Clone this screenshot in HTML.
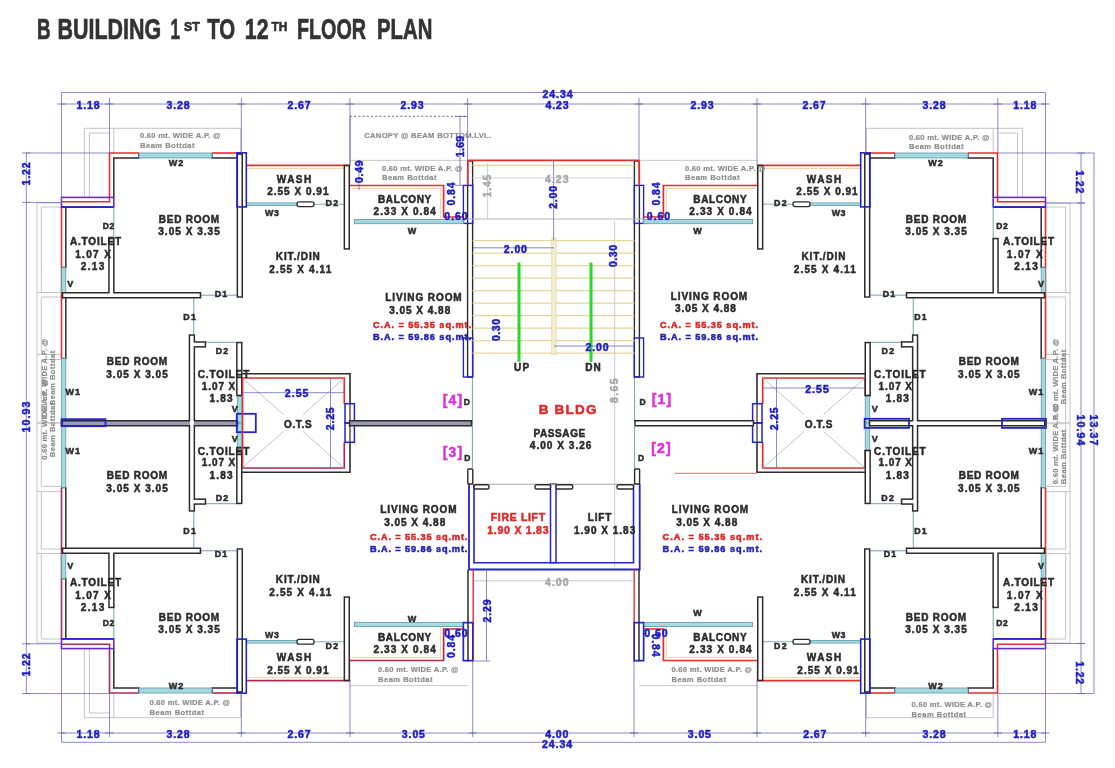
<!DOCTYPE html>
<html><head><meta charset="utf-8"><style>
html,body{margin:0;padding:0;background:#fff;overflow:hidden;}
svg{display:block;will-change:transform;}
</style></head><body>
<svg width="1115" height="768" viewBox="0 0 1115 768" shape-rendering="geometricPrecision">
<rect width="1115" height="768" fill="#fff"/>
<polyline points="84.4,128.3 240.7,128.3 240.7,153" fill="none" stroke="#c4c4c4" stroke-width="1" stroke-linejoin="miter" />
<polyline points="89.4,197.4 89.4,133 109.5,133" fill="none" stroke="#c4c4c4" stroke-width="1" stroke-linejoin="miter" />
<line x1="84.4" y1="128.3" x2="84.4" y2="197.4" stroke="#c4c4c4" stroke-width="1" />
<line x1="113.8" y1="128.3" x2="113.8" y2="153" stroke="#c4c4c4" stroke-width="1" />
<line x1="37" y1="203" x2="37" y2="423" stroke="#c4c4c4" stroke-width="1" />
<line x1="41.3" y1="207" x2="41.3" y2="292.5" stroke="#c4c4c4" stroke-width="1" />
<line x1="41.3" y1="297" x2="41.3" y2="354.4" stroke="#c4c4c4" stroke-width="1" />
<line x1="41.3" y1="359.6" x2="41.3" y2="423" stroke="#c4c4c4" stroke-width="1" />
<line x1="37" y1="203" x2="61.5" y2="203" stroke="#c4c4c4" stroke-width="1" />
<line x1="41.3" y1="207" x2="61.5" y2="207" stroke="#c4c4c4" stroke-width="1" />
<line x1="37" y1="292.5" x2="61.5" y2="292.5" stroke="#c4c4c4" stroke-width="1" />
<line x1="41.3" y1="297" x2="61.5" y2="297" stroke="#c4c4c4" stroke-width="1" />
<line x1="37" y1="354.4" x2="61.5" y2="354.4" stroke="#c4c4c4" stroke-width="1" />
<line x1="41.3" y1="359.6" x2="61.5" y2="359.6" stroke="#c4c4c4" stroke-width="1" />
<line x1="37" y1="423" x2="61.5" y2="423" stroke="#c4c4c4" stroke-width="1" />
<polyline points="242,153 212,153" fill="none" stroke="#e2302f" stroke-width="1.6" stroke-linejoin="miter" />
<polyline points="139,153 109.5,153 109.5,201.7 61.5,201.7" fill="none" stroke="#e2302f" stroke-width="1.6" stroke-linejoin="miter" />
<line x1="61.5" y1="207" x2="61.5" y2="358.5" stroke="#e2302f" stroke-width="1.6" />
<polyline points="139,153 139,158 113.8,158 113.8,197.4" fill="none" stroke="#2b2b2b" stroke-width="1.5" stroke-linejoin="miter" />
<polyline points="212,153 212,158 237.3,158" fill="none" stroke="#2b2b2b" stroke-width="1.5" stroke-linejoin="miter" />
<polyline points="65.8,207 65.8,267.6 61.5,267.6" fill="none" stroke="#2b2b2b" stroke-width="1.5" stroke-linejoin="miter" />
<polyline points="65.8,297.7 65.8,358.5 61.5,358.5" fill="none" stroke="#2b2b2b" stroke-width="1.5" stroke-linejoin="miter" />
<rect x="139" y="153" width="73" height="5" rx="0" fill="#a6d8e2" stroke="#5f9aa4" stroke-width="0.8" />
<rect x="61.5" y="267.6" width="4.3" height="25.1" rx="0" fill="#a6d8e2" stroke="#5f9aa4" stroke-width="0.8" />
<rect x="61.5" y="358.5" width="4.3" height="64.5" rx="0" fill="#a6d8e2" stroke="#5f9aa4" stroke-width="0.8" />
<rect x="61.5" y="197.4" width="52.3" height="9.7" rx="0" fill="none" stroke="#6a2ad0" stroke-width="1.6" />
<line x1="61.5" y1="207.1" x2="113.8" y2="207.1" stroke="#2424c8" stroke-width="1.6" />
<rect x="467.6" y="161" width="5" height="216" rx="0" fill="#fff" stroke="#2b2b2b" stroke-width="1.4" />
<line x1="113.8" y1="207" x2="113.8" y2="241" stroke="#5f9aa4" stroke-width="0.9" />
<line x1="201" y1="295.2" x2="237.3" y2="295.2" stroke="#5f9aa4" stroke-width="0.9" />
<line x1="193.75" y1="297.7" x2="193.75" y2="334.4" stroke="#5f9aa4" stroke-width="0.9" />
<line x1="206.25" y1="342.3" x2="236.8" y2="342.3" stroke="#5f9aa4" stroke-width="0.9" />
<rect x="237.3" y="396.2" width="4.5" height="26.8" rx="0" fill="#a6d8e2" stroke="#5f9aa4" stroke-width="0.8" />
<line x1="472.4" y1="377" x2="472.4" y2="423" stroke="#5f9aa4" stroke-width="0.9" />
<rect x="463.4" y="185.4" width="9.3" height="38" rx="0" fill="none" stroke="#2424c8" stroke-width="1.4" />
<rect x="463.4" y="338" width="9.3" height="39" rx="0" fill="none" stroke="#2424c8" stroke-width="1.4" />
<polyline points="246,168.5 346,168.5" fill="none" stroke="#ecd9a8" stroke-width="1" stroke-linejoin="miter" />
<polyline points="246,165.4 349.3,165.4 349.3,185.5 443.6,185.5 443.6,217 463.4,217" fill="none" stroke="#e2302f" stroke-width="1.7" stroke-linejoin="miter" />
<polyline points="352,188.5 440.6,188.5 440.6,219" fill="none" stroke="#ecd9a8" stroke-width="1" stroke-linejoin="miter" />
<line x1="246" y1="204.2" x2="297" y2="204.2" stroke="#5f9aa4" stroke-width="3.4" />
<line x1="246" y1="204.2" x2="297" y2="204.2" stroke="#a6d8e2" stroke-width="2" />
<line x1="314" y1="204.2" x2="344" y2="204.2" stroke="#5f9aa4" stroke-width="0.8" />
<rect x="297" y="201.8" width="17" height="4.8" rx="2" fill="#fff" stroke="#2b2b2b" stroke-width="1.3" />
<rect x="354.4" y="219.4" width="109" height="4.3" rx="0" fill="#a6d8e2" stroke="#5f9aa4" stroke-width="0.8" />
<line x1="349.3" y1="160.4" x2="467.6" y2="160.4" stroke="#c4c4c4" stroke-width="0.9" />
<polyline points="242,373.8 350,373.8 350,403.7" fill="none" stroke="#2b2b2b" stroke-width="1.6" stroke-linejoin="miter" />
<polyline points="241.8,396 241.8,378 344.3,378 344.3,403.7" fill="none" stroke="#e2302f" stroke-width="1.7" stroke-linejoin="miter" />
<line x1="242" y1="378" x2="283.5" y2="414.5" stroke="#b4b4b4" stroke-width="0.8" />
<line x1="344.3" y1="378" x2="303" y2="414.5" stroke="#b4b4b4" stroke-width="0.8" />
<rect x="345" y="403.7" width="9.4" height="19.3" rx="0" fill="none" stroke="#2424c8" stroke-width="1.5" />
<line x1="350" y1="403.7" x2="350" y2="423" stroke="#2b2b2b" stroke-width="1.2" />
<line x1="330.5" y1="378" x2="330.5" y2="423" stroke="#6464b4" stroke-width="0.75" />
<line x1="467.8" y1="160.4" x2="553.5" y2="160.4" stroke="#e2302f" stroke-width="1.8" />
<line x1="467.8" y1="160.4" x2="467.8" y2="185.4" stroke="#e2302f" stroke-width="1.6" />
<line x1="472.6" y1="165.4" x2="553.5" y2="165.4" stroke="#e6d69a" stroke-width="1.2" />
<line x1="472.6" y1="177.9" x2="553.5" y2="177.9" stroke="#d0d0d0" stroke-width="1" />
<line x1="472.6" y1="219" x2="553.5" y2="219" stroke="#b8b8b8" stroke-width="1.1" />
<line x1="463.4" y1="219" x2="472.6" y2="219" stroke="#b8b8b8" stroke-width="1.1" />
<g transform="matrix(-1,0,0,1,1107.0,0)">
<polyline points="84.4,128.3 240.7,128.3 240.7,153" fill="none" stroke="#c4c4c4" stroke-width="1" stroke-linejoin="miter" />
<polyline points="89.4,197.4 89.4,133 109.5,133" fill="none" stroke="#c4c4c4" stroke-width="1" stroke-linejoin="miter" />
<line x1="84.4" y1="128.3" x2="84.4" y2="197.4" stroke="#c4c4c4" stroke-width="1" />
<line x1="113.8" y1="128.3" x2="113.8" y2="153" stroke="#c4c4c4" stroke-width="1" />
<line x1="37" y1="203" x2="37" y2="423" stroke="#c4c4c4" stroke-width="1" />
<line x1="41.3" y1="207" x2="41.3" y2="292.5" stroke="#c4c4c4" stroke-width="1" />
<line x1="41.3" y1="297" x2="41.3" y2="354.4" stroke="#c4c4c4" stroke-width="1" />
<line x1="41.3" y1="359.6" x2="41.3" y2="423" stroke="#c4c4c4" stroke-width="1" />
<line x1="37" y1="203" x2="61.5" y2="203" stroke="#c4c4c4" stroke-width="1" />
<line x1="41.3" y1="207" x2="61.5" y2="207" stroke="#c4c4c4" stroke-width="1" />
<line x1="37" y1="292.5" x2="61.5" y2="292.5" stroke="#c4c4c4" stroke-width="1" />
<line x1="41.3" y1="297" x2="61.5" y2="297" stroke="#c4c4c4" stroke-width="1" />
<line x1="37" y1="354.4" x2="61.5" y2="354.4" stroke="#c4c4c4" stroke-width="1" />
<line x1="41.3" y1="359.6" x2="61.5" y2="359.6" stroke="#c4c4c4" stroke-width="1" />
<line x1="37" y1="423" x2="61.5" y2="423" stroke="#c4c4c4" stroke-width="1" />
<polyline points="242,153 212,153" fill="none" stroke="#e2302f" stroke-width="1.6" stroke-linejoin="miter" />
<polyline points="139,153 109.5,153 109.5,201.7 61.5,201.7" fill="none" stroke="#e2302f" stroke-width="1.6" stroke-linejoin="miter" />
<line x1="61.5" y1="207" x2="61.5" y2="358.5" stroke="#e2302f" stroke-width="1.6" />
<polyline points="139,153 139,158 113.8,158 113.8,197.4" fill="none" stroke="#2b2b2b" stroke-width="1.5" stroke-linejoin="miter" />
<polyline points="212,153 212,158 237.3,158" fill="none" stroke="#2b2b2b" stroke-width="1.5" stroke-linejoin="miter" />
<polyline points="65.8,207 65.8,267.6 61.5,267.6" fill="none" stroke="#2b2b2b" stroke-width="1.5" stroke-linejoin="miter" />
<polyline points="65.8,297.7 65.8,358.5 61.5,358.5" fill="none" stroke="#2b2b2b" stroke-width="1.5" stroke-linejoin="miter" />
<rect x="139" y="153" width="73" height="5" rx="0" fill="#a6d8e2" stroke="#5f9aa4" stroke-width="0.8" />
<rect x="61.5" y="267.6" width="4.3" height="25.1" rx="0" fill="#a6d8e2" stroke="#5f9aa4" stroke-width="0.8" />
<rect x="61.5" y="358.5" width="4.3" height="64.5" rx="0" fill="#a6d8e2" stroke="#5f9aa4" stroke-width="0.8" />
<rect x="61.5" y="197.4" width="52.3" height="9.7" rx="0" fill="none" stroke="#6a2ad0" stroke-width="1.6" />
<line x1="61.5" y1="207.1" x2="113.8" y2="207.1" stroke="#2424c8" stroke-width="1.6" />
<rect x="467.6" y="161" width="5" height="216" rx="0" fill="#fff" stroke="#2b2b2b" stroke-width="1.4" />
<line x1="113.8" y1="207" x2="113.8" y2="241" stroke="#5f9aa4" stroke-width="0.9" />
<line x1="201" y1="295.2" x2="237.3" y2="295.2" stroke="#5f9aa4" stroke-width="0.9" />
<line x1="193.75" y1="297.7" x2="193.75" y2="334.4" stroke="#5f9aa4" stroke-width="0.9" />
<line x1="206.25" y1="342.3" x2="236.8" y2="342.3" stroke="#5f9aa4" stroke-width="0.9" />
<rect x="237.3" y="396.2" width="4.5" height="26.8" rx="0" fill="#a6d8e2" stroke="#5f9aa4" stroke-width="0.8" />
<line x1="472.4" y1="377" x2="472.4" y2="423" stroke="#5f9aa4" stroke-width="0.9" />
<rect x="463.4" y="185.4" width="9.3" height="38" rx="0" fill="none" stroke="#2424c8" stroke-width="1.4" />
<rect x="463.4" y="338" width="9.3" height="39" rx="0" fill="none" stroke="#2424c8" stroke-width="1.4" />
<polyline points="246,168.5 346,168.5" fill="none" stroke="#ecd9a8" stroke-width="1" stroke-linejoin="miter" />
<polyline points="246,165.4 349.3,165.4 349.3,185.5 443.6,185.5 443.6,217 463.4,217" fill="none" stroke="#e2302f" stroke-width="1.7" stroke-linejoin="miter" />
<polyline points="352,188.5 440.6,188.5 440.6,219" fill="none" stroke="#ecd9a8" stroke-width="1" stroke-linejoin="miter" />
<line x1="246" y1="204.2" x2="297" y2="204.2" stroke="#5f9aa4" stroke-width="3.4" />
<line x1="246" y1="204.2" x2="297" y2="204.2" stroke="#a6d8e2" stroke-width="2" />
<line x1="314" y1="204.2" x2="344" y2="204.2" stroke="#5f9aa4" stroke-width="0.8" />
<rect x="297" y="201.8" width="17" height="4.8" rx="2" fill="#fff" stroke="#2b2b2b" stroke-width="1.3" />
<rect x="354.4" y="219.4" width="109" height="4.3" rx="0" fill="#a6d8e2" stroke="#5f9aa4" stroke-width="0.8" />
<line x1="349.3" y1="160.4" x2="467.6" y2="160.4" stroke="#c4c4c4" stroke-width="0.9" />
<polyline points="242,373.8 350,373.8 350,403.7" fill="none" stroke="#2b2b2b" stroke-width="1.6" stroke-linejoin="miter" />
<polyline points="241.8,396 241.8,378 344.3,378 344.3,403.7" fill="none" stroke="#e2302f" stroke-width="1.7" stroke-linejoin="miter" />
<line x1="242" y1="378" x2="283.5" y2="414.5" stroke="#b4b4b4" stroke-width="0.8" />
<line x1="344.3" y1="378" x2="303" y2="414.5" stroke="#b4b4b4" stroke-width="0.8" />
<rect x="345" y="403.7" width="9.4" height="19.3" rx="0" fill="none" stroke="#2424c8" stroke-width="1.5" />
<line x1="350" y1="403.7" x2="350" y2="423" stroke="#2b2b2b" stroke-width="1.2" />
<line x1="330.5" y1="378" x2="330.5" y2="423" stroke="#6464b4" stroke-width="0.75" />
<line x1="467.8" y1="160.4" x2="553.5" y2="160.4" stroke="#e2302f" stroke-width="1.8" />
<line x1="467.8" y1="160.4" x2="467.8" y2="185.4" stroke="#e2302f" stroke-width="1.6" />
<line x1="472.6" y1="165.4" x2="553.5" y2="165.4" stroke="#e6d69a" stroke-width="1.2" />
<line x1="472.6" y1="177.9" x2="553.5" y2="177.9" stroke="#d0d0d0" stroke-width="1" />
<line x1="472.6" y1="219" x2="553.5" y2="219" stroke="#b8b8b8" stroke-width="1.1" />
<line x1="463.4" y1="219" x2="472.6" y2="219" stroke="#b8b8b8" stroke-width="1.1" />
</g>
<g transform="matrix(1,0,0,-1,0,846.0)">
<polyline points="84.4,128.3 240.7,128.3 240.7,153" fill="none" stroke="#c4c4c4" stroke-width="1" stroke-linejoin="miter" />
<polyline points="89.4,197.4 89.4,133 109.5,133" fill="none" stroke="#c4c4c4" stroke-width="1" stroke-linejoin="miter" />
<line x1="84.4" y1="128.3" x2="84.4" y2="197.4" stroke="#c4c4c4" stroke-width="1" />
<line x1="113.8" y1="128.3" x2="113.8" y2="153" stroke="#c4c4c4" stroke-width="1" />
<line x1="37" y1="203" x2="37" y2="423" stroke="#c4c4c4" stroke-width="1" />
<line x1="41.3" y1="207" x2="41.3" y2="292.5" stroke="#c4c4c4" stroke-width="1" />
<line x1="41.3" y1="297" x2="41.3" y2="354.4" stroke="#c4c4c4" stroke-width="1" />
<line x1="41.3" y1="359.6" x2="41.3" y2="423" stroke="#c4c4c4" stroke-width="1" />
<line x1="37" y1="203" x2="61.5" y2="203" stroke="#c4c4c4" stroke-width="1" />
<line x1="41.3" y1="207" x2="61.5" y2="207" stroke="#c4c4c4" stroke-width="1" />
<line x1="37" y1="292.5" x2="61.5" y2="292.5" stroke="#c4c4c4" stroke-width="1" />
<line x1="41.3" y1="297" x2="61.5" y2="297" stroke="#c4c4c4" stroke-width="1" />
<line x1="37" y1="354.4" x2="61.5" y2="354.4" stroke="#c4c4c4" stroke-width="1" />
<line x1="41.3" y1="359.6" x2="61.5" y2="359.6" stroke="#c4c4c4" stroke-width="1" />
<line x1="37" y1="423" x2="61.5" y2="423" stroke="#c4c4c4" stroke-width="1" />
<polyline points="242,153 212,153" fill="none" stroke="#b0285a" stroke-width="1.6" stroke-linejoin="miter" />
<polyline points="139,153 109.5,153 109.5,201.7 61.5,201.7" fill="none" stroke="#b0285a" stroke-width="1.6" stroke-linejoin="miter" />
<line x1="61.5" y1="207" x2="61.5" y2="358.5" stroke="#b0285a" stroke-width="1.6" />
<polyline points="139,153 139,158 113.8,158 113.8,197.4" fill="none" stroke="#2b2b2b" stroke-width="1.5" stroke-linejoin="miter" />
<polyline points="212,153 212,158 237.3,158" fill="none" stroke="#2b2b2b" stroke-width="1.5" stroke-linejoin="miter" />
<polyline points="65.8,207 65.8,267.6 61.5,267.6" fill="none" stroke="#2b2b2b" stroke-width="1.5" stroke-linejoin="miter" />
<polyline points="65.8,297.7 65.8,358.5 61.5,358.5" fill="none" stroke="#2b2b2b" stroke-width="1.5" stroke-linejoin="miter" />
<rect x="139" y="153" width="73" height="5" rx="0" fill="#a6d8e2" stroke="#5f9aa4" stroke-width="0.8" />
<rect x="61.5" y="267.6" width="4.3" height="25.1" rx="0" fill="#a6d8e2" stroke="#5f9aa4" stroke-width="0.8" />
<rect x="61.5" y="358.5" width="4.3" height="64.5" rx="0" fill="#a6d8e2" stroke="#5f9aa4" stroke-width="0.8" />
<rect x="61.5" y="197.4" width="52.3" height="9.7" rx="0" fill="none" stroke="#6a2ad0" stroke-width="1.6" />
<line x1="61.5" y1="207.1" x2="113.8" y2="207.1" stroke="#2424c8" stroke-width="1.6" />
<line x1="113.8" y1="207" x2="113.8" y2="241" stroke="#5f9aa4" stroke-width="0.9" />
<line x1="201" y1="295.2" x2="237.3" y2="295.2" stroke="#5f9aa4" stroke-width="0.9" />
<line x1="193.75" y1="297.7" x2="193.75" y2="334.4" stroke="#5f9aa4" stroke-width="0.9" />
<line x1="206.25" y1="342.3" x2="236.8" y2="342.3" stroke="#5f9aa4" stroke-width="0.9" />
<rect x="237.3" y="396.2" width="4.5" height="26.8" rx="0" fill="#a6d8e2" stroke="#5f9aa4" stroke-width="0.8" />
<rect x="463.4" y="185.4" width="9.3" height="38" rx="0" fill="none" stroke="#2424c8" stroke-width="1.4" />
<polyline points="246,168.5 346,168.5" fill="none" stroke="#ecd9a8" stroke-width="1" stroke-linejoin="miter" />
<polyline points="246,165.4 349.3,165.4 349.3,185.5 443.6,185.5 443.6,217 463.4,217" fill="none" stroke="#b0285a" stroke-width="1.7" stroke-linejoin="miter" />
<polyline points="352,188.5 440.6,188.5 440.6,219" fill="none" stroke="#ecd9a8" stroke-width="1" stroke-linejoin="miter" />
<line x1="246" y1="204.2" x2="297" y2="204.2" stroke="#5f9aa4" stroke-width="3.4" />
<line x1="246" y1="204.2" x2="297" y2="204.2" stroke="#a6d8e2" stroke-width="2" />
<line x1="314" y1="204.2" x2="344" y2="204.2" stroke="#5f9aa4" stroke-width="0.8" />
<rect x="297" y="201.8" width="17" height="4.8" rx="2" fill="#fff" stroke="#2b2b2b" stroke-width="1.3" />
<rect x="354.4" y="219.4" width="109" height="4.3" rx="0" fill="#a6d8e2" stroke="#5f9aa4" stroke-width="0.8" />
<line x1="349.3" y1="160.4" x2="467.6" y2="160.4" stroke="#c4c4c4" stroke-width="0.9" />
<polyline points="242,373.8 350,373.8 350,403.7" fill="none" stroke="#2b2b2b" stroke-width="1.6" stroke-linejoin="miter" />
<polyline points="241.8,396 241.8,378 344.3,378 344.3,403.7" fill="none" stroke="#b0285a" stroke-width="1.7" stroke-linejoin="miter" />
<line x1="242" y1="378" x2="283.5" y2="414.5" stroke="#b4b4b4" stroke-width="0.8" />
<line x1="344.3" y1="378" x2="303" y2="414.5" stroke="#b4b4b4" stroke-width="0.8" />
<rect x="345" y="403.7" width="9.4" height="19.3" rx="0" fill="none" stroke="#2424c8" stroke-width="1.5" />
<line x1="350" y1="403.7" x2="350" y2="423" stroke="#2b2b2b" stroke-width="1.2" />
<line x1="330.5" y1="378" x2="330.5" y2="423" stroke="#6464b4" stroke-width="0.75" />
</g>
<g transform="matrix(-1,0,0,-1,1107.0,846.0)">
<polyline points="113.8,128.3 240.7,128.3 240.7,153" fill="none" stroke="#c4c4c4" stroke-width="1" stroke-linejoin="miter" />
<line x1="113.8" y1="128.3" x2="113.8" y2="153" stroke="#c4c4c4" stroke-width="1" />
<line x1="37" y1="203" x2="37" y2="423" stroke="#c4c4c4" stroke-width="1" />
<line x1="41.3" y1="207" x2="41.3" y2="292.5" stroke="#c4c4c4" stroke-width="1" />
<line x1="41.3" y1="297" x2="41.3" y2="354.4" stroke="#c4c4c4" stroke-width="1" />
<line x1="41.3" y1="359.6" x2="41.3" y2="423" stroke="#c4c4c4" stroke-width="1" />
<line x1="37" y1="203" x2="61.5" y2="203" stroke="#c4c4c4" stroke-width="1" />
<line x1="41.3" y1="207" x2="61.5" y2="207" stroke="#c4c4c4" stroke-width="1" />
<line x1="37" y1="292.5" x2="61.5" y2="292.5" stroke="#c4c4c4" stroke-width="1" />
<line x1="41.3" y1="297" x2="61.5" y2="297" stroke="#c4c4c4" stroke-width="1" />
<line x1="37" y1="354.4" x2="61.5" y2="354.4" stroke="#c4c4c4" stroke-width="1" />
<line x1="41.3" y1="359.6" x2="61.5" y2="359.6" stroke="#c4c4c4" stroke-width="1" />
<line x1="37" y1="423" x2="61.5" y2="423" stroke="#c4c4c4" stroke-width="1" />
<polyline points="242,153 212,153" fill="none" stroke="#e2302f" stroke-width="1.6" stroke-linejoin="miter" />
<polyline points="139,153 109.5,153 109.5,201.7 61.5,201.7" fill="none" stroke="#e2302f" stroke-width="1.6" stroke-linejoin="miter" />
<line x1="61.5" y1="207" x2="61.5" y2="358.5" stroke="#e2302f" stroke-width="1.6" />
<polyline points="139,153 139,158 113.8,158 113.8,197.4" fill="none" stroke="#2b2b2b" stroke-width="1.5" stroke-linejoin="miter" />
<polyline points="212,153 212,158 237.3,158" fill="none" stroke="#2b2b2b" stroke-width="1.5" stroke-linejoin="miter" />
<polyline points="65.8,207 65.8,267.6 61.5,267.6" fill="none" stroke="#2b2b2b" stroke-width="1.5" stroke-linejoin="miter" />
<polyline points="65.8,297.7 65.8,358.5 61.5,358.5" fill="none" stroke="#2b2b2b" stroke-width="1.5" stroke-linejoin="miter" />
<rect x="139" y="153" width="73" height="5" rx="0" fill="#a6d8e2" stroke="#5f9aa4" stroke-width="0.8" />
<rect x="61.5" y="267.6" width="4.3" height="25.1" rx="0" fill="#a6d8e2" stroke="#5f9aa4" stroke-width="0.8" />
<rect x="61.5" y="358.5" width="4.3" height="64.5" rx="0" fill="#a6d8e2" stroke="#5f9aa4" stroke-width="0.8" />
<rect x="61.5" y="197.4" width="52.3" height="9.7" rx="0" fill="none" stroke="#6a2ad0" stroke-width="1.6" />
<line x1="61.5" y1="207.1" x2="113.8" y2="207.1" stroke="#2424c8" stroke-width="1.6" />
<line x1="113.8" y1="207" x2="113.8" y2="241" stroke="#5f9aa4" stroke-width="0.9" />
<line x1="201" y1="295.2" x2="237.3" y2="295.2" stroke="#5f9aa4" stroke-width="0.9" />
<line x1="193.75" y1="297.7" x2="193.75" y2="334.4" stroke="#5f9aa4" stroke-width="0.9" />
<line x1="206.25" y1="342.3" x2="236.8" y2="342.3" stroke="#5f9aa4" stroke-width="0.9" />
<rect x="237.3" y="396.2" width="4.5" height="26.8" rx="0" fill="#a6d8e2" stroke="#5f9aa4" stroke-width="0.8" />
<rect x="463.4" y="185.4" width="9.3" height="38" rx="0" fill="none" stroke="#2424c8" stroke-width="1.4" />
<polyline points="246,168.5 346,168.5" fill="none" stroke="#ecd9a8" stroke-width="1" stroke-linejoin="miter" />
<polyline points="246,165.4 349.3,165.4 349.3,185.5 443.6,185.5 443.6,217 463.4,217" fill="none" stroke="#e2302f" stroke-width="1.7" stroke-linejoin="miter" />
<polyline points="352,188.5 440.6,188.5 440.6,219" fill="none" stroke="#ecd9a8" stroke-width="1" stroke-linejoin="miter" />
<line x1="246" y1="204.2" x2="297" y2="204.2" stroke="#5f9aa4" stroke-width="3.4" />
<line x1="246" y1="204.2" x2="297" y2="204.2" stroke="#a6d8e2" stroke-width="2" />
<line x1="314" y1="204.2" x2="344" y2="204.2" stroke="#5f9aa4" stroke-width="0.8" />
<rect x="297" y="201.8" width="17" height="4.8" rx="2" fill="#fff" stroke="#2b2b2b" stroke-width="1.3" />
<rect x="354.4" y="219.4" width="109" height="4.3" rx="0" fill="#a6d8e2" stroke="#5f9aa4" stroke-width="0.8" />
<line x1="349.3" y1="160.4" x2="467.6" y2="160.4" stroke="#c4c4c4" stroke-width="0.9" />
<polyline points="242,373.8 350,373.8 350,403.7" fill="none" stroke="#2b2b2b" stroke-width="1.6" stroke-linejoin="miter" />
<polyline points="241.8,396 241.8,378 344.3,378 344.3,403.7" fill="none" stroke="#e2302f" stroke-width="1.7" stroke-linejoin="miter" />
<line x1="242" y1="378" x2="283.5" y2="414.5" stroke="#b4b4b4" stroke-width="0.8" />
<line x1="344.3" y1="378" x2="303" y2="414.5" stroke="#b4b4b4" stroke-width="0.8" />
<rect x="345" y="403.7" width="9.4" height="19.3" rx="0" fill="none" stroke="#2424c8" stroke-width="1.5" />
<line x1="350" y1="403.7" x2="350" y2="423" stroke="#2b2b2b" stroke-width="1.2" />
<line x1="330.5" y1="378" x2="330.5" y2="423" stroke="#6464b4" stroke-width="0.75" />
</g>
<polyline points="64.7,423.3 235,423.3" fill="none" stroke="#2b2b2b" stroke-width="6.4" stroke-linecap="square" stroke-linejoin="miter"/>
<polyline points="352,423.3 469,423.3" fill="none" stroke="#2b2b2b" stroke-width="6.4" stroke-linecap="square" stroke-linejoin="miter"/>
<polyline points="637.4,423.3 751,423.3" fill="none" stroke="#2b2b2b" stroke-width="6.4" stroke-linecap="square" stroke-linejoin="miter"/>
<polyline points="872,423.3 1042.3,423.3" fill="none" stroke="#2b2b2b" stroke-width="6.4" stroke-linecap="square" stroke-linejoin="miter"/>
<polyline points="111.4,241 111.4,294" fill="none" stroke="#2b2b2b" stroke-width="6.4" stroke-linecap="square" stroke-linejoin="miter"/>
<polyline points="65,295.2 198,295.2" fill="none" stroke="#2b2b2b" stroke-width="6.4" stroke-linecap="square" stroke-linejoin="miter"/>
<polyline points="239.8,156.5 239.8,294.6" fill="none" stroke="#2b2b2b" stroke-width="6.4" stroke-linecap="square" stroke-linejoin="miter"/>
<polyline points="191.9,337.5 191.9,423.3" fill="none" stroke="#2b2b2b" stroke-width="6.4" stroke-linecap="square" stroke-linejoin="miter"/>
<polyline points="194.5,344.4 203,344.4" fill="none" stroke="#2b2b2b" stroke-width="6.4" stroke-linecap="square" stroke-linejoin="miter"/>
<polyline points="239.3,345 239.3,393" fill="none" stroke="#2b2b2b" stroke-width="6.4" stroke-linecap="square" stroke-linejoin="miter"/>
<polyline points="346.8,168 346.8,246.5" fill="none" stroke="#2b2b2b" stroke-width="6.4" stroke-linecap="square" stroke-linejoin="miter"/>
<polyline points="995.6,241 995.6,294" fill="none" stroke="#2b2b2b" stroke-width="6.4" stroke-linecap="square" stroke-linejoin="miter"/>
<polyline points="1042,295.2 909,295.2" fill="none" stroke="#2b2b2b" stroke-width="6.4" stroke-linecap="square" stroke-linejoin="miter"/>
<polyline points="867.2,156.5 867.2,294.6" fill="none" stroke="#2b2b2b" stroke-width="6.4" stroke-linecap="square" stroke-linejoin="miter"/>
<polyline points="915.1,337.5 915.1,423.3" fill="none" stroke="#2b2b2b" stroke-width="6.4" stroke-linecap="square" stroke-linejoin="miter"/>
<polyline points="912.5,344.4 904,344.4" fill="none" stroke="#2b2b2b" stroke-width="6.4" stroke-linecap="square" stroke-linejoin="miter"/>
<polyline points="867.7,345 867.7,393" fill="none" stroke="#2b2b2b" stroke-width="6.4" stroke-linecap="square" stroke-linejoin="miter"/>
<polyline points="760.2,168 760.2,246.5" fill="none" stroke="#2b2b2b" stroke-width="6.4" stroke-linecap="square" stroke-linejoin="miter"/>
<polyline points="111.4,605 111.4,552" fill="none" stroke="#2b2b2b" stroke-width="6.4" stroke-linecap="square" stroke-linejoin="miter"/>
<polyline points="65,550.8 198,550.8" fill="none" stroke="#2b2b2b" stroke-width="6.4" stroke-linecap="square" stroke-linejoin="miter"/>
<polyline points="239.8,689.5 239.8,551.4" fill="none" stroke="#2b2b2b" stroke-width="6.4" stroke-linecap="square" stroke-linejoin="miter"/>
<polyline points="191.9,508.5 191.9,422.7" fill="none" stroke="#2b2b2b" stroke-width="6.4" stroke-linecap="square" stroke-linejoin="miter"/>
<polyline points="194.5,501.6 203,501.6" fill="none" stroke="#2b2b2b" stroke-width="6.4" stroke-linecap="square" stroke-linejoin="miter"/>
<polyline points="239.3,501 239.3,453" fill="none" stroke="#2b2b2b" stroke-width="6.4" stroke-linecap="square" stroke-linejoin="miter"/>
<polyline points="346.8,678 346.8,599.5" fill="none" stroke="#2b2b2b" stroke-width="6.4" stroke-linecap="square" stroke-linejoin="miter"/>
<polyline points="995.6,605 995.6,552" fill="none" stroke="#2b2b2b" stroke-width="6.4" stroke-linecap="square" stroke-linejoin="miter"/>
<polyline points="1042,550.8 909,550.8" fill="none" stroke="#2b2b2b" stroke-width="6.4" stroke-linecap="square" stroke-linejoin="miter"/>
<polyline points="867.2,689.5 867.2,551.4" fill="none" stroke="#2b2b2b" stroke-width="6.4" stroke-linecap="square" stroke-linejoin="miter"/>
<polyline points="915.1,508.5 915.1,422.7" fill="none" stroke="#2b2b2b" stroke-width="6.4" stroke-linecap="square" stroke-linejoin="miter"/>
<polyline points="912.5,501.6 904,501.6" fill="none" stroke="#2b2b2b" stroke-width="6.4" stroke-linecap="square" stroke-linejoin="miter"/>
<polyline points="867.7,501 867.7,453" fill="none" stroke="#2b2b2b" stroke-width="6.4" stroke-linecap="square" stroke-linejoin="miter"/>
<polyline points="760.2,678 760.2,599.5" fill="none" stroke="#2b2b2b" stroke-width="6.4" stroke-linecap="square" stroke-linejoin="miter"/>
<polyline points="64.7,423.3 235,423.3" fill="none" stroke="#9c9cb6" stroke-width="3.4" stroke-linecap="square" stroke-linejoin="miter"/>
<polyline points="352,423.3 469,423.3" fill="none" stroke="#9c9cb6" stroke-width="3.4" stroke-linecap="square" stroke-linejoin="miter"/>
<polyline points="637.4,423.3 751,423.3" fill="none" stroke="#fff" stroke-width="3.4" stroke-linecap="square" stroke-linejoin="miter"/>
<polyline points="872,423.3 1042.3,423.3" fill="none" stroke="#fff" stroke-width="3.4" stroke-linecap="square" stroke-linejoin="miter"/>
<polyline points="111.4,241 111.4,294" fill="none" stroke="#fff" stroke-width="3.4" stroke-linecap="square" stroke-linejoin="miter"/>
<polyline points="65,295.2 198,295.2" fill="none" stroke="#fff" stroke-width="3.4" stroke-linecap="square" stroke-linejoin="miter"/>
<polyline points="239.8,156.5 239.8,294.6" fill="none" stroke="#fff" stroke-width="3.4" stroke-linecap="square" stroke-linejoin="miter"/>
<polyline points="191.9,337.5 191.9,423.3" fill="none" stroke="#fff" stroke-width="3.4" stroke-linecap="square" stroke-linejoin="miter"/>
<polyline points="194.5,344.4 203,344.4" fill="none" stroke="#fff" stroke-width="3.4" stroke-linecap="square" stroke-linejoin="miter"/>
<polyline points="239.3,345 239.3,393" fill="none" stroke="#fff" stroke-width="3.4" stroke-linecap="square" stroke-linejoin="miter"/>
<polyline points="346.8,168 346.8,246.5" fill="none" stroke="#fff" stroke-width="3.4" stroke-linecap="square" stroke-linejoin="miter"/>
<polyline points="995.6,241 995.6,294" fill="none" stroke="#fff" stroke-width="3.4" stroke-linecap="square" stroke-linejoin="miter"/>
<polyline points="1042,295.2 909,295.2" fill="none" stroke="#fff" stroke-width="3.4" stroke-linecap="square" stroke-linejoin="miter"/>
<polyline points="867.2,156.5 867.2,294.6" fill="none" stroke="#fff" stroke-width="3.4" stroke-linecap="square" stroke-linejoin="miter"/>
<polyline points="915.1,337.5 915.1,423.3" fill="none" stroke="#fff" stroke-width="3.4" stroke-linecap="square" stroke-linejoin="miter"/>
<polyline points="912.5,344.4 904,344.4" fill="none" stroke="#fff" stroke-width="3.4" stroke-linecap="square" stroke-linejoin="miter"/>
<polyline points="867.7,345 867.7,393" fill="none" stroke="#fff" stroke-width="3.4" stroke-linecap="square" stroke-linejoin="miter"/>
<polyline points="760.2,168 760.2,246.5" fill="none" stroke="#fff" stroke-width="3.4" stroke-linecap="square" stroke-linejoin="miter"/>
<polyline points="111.4,605 111.4,552" fill="none" stroke="#fff" stroke-width="3.4" stroke-linecap="square" stroke-linejoin="miter"/>
<polyline points="65,550.8 198,550.8" fill="none" stroke="#fff" stroke-width="3.4" stroke-linecap="square" stroke-linejoin="miter"/>
<polyline points="239.8,689.5 239.8,551.4" fill="none" stroke="#fff" stroke-width="3.4" stroke-linecap="square" stroke-linejoin="miter"/>
<polyline points="191.9,508.5 191.9,422.7" fill="none" stroke="#fff" stroke-width="3.4" stroke-linecap="square" stroke-linejoin="miter"/>
<polyline points="194.5,501.6 203,501.6" fill="none" stroke="#fff" stroke-width="3.4" stroke-linecap="square" stroke-linejoin="miter"/>
<polyline points="239.3,501 239.3,453" fill="none" stroke="#fff" stroke-width="3.4" stroke-linecap="square" stroke-linejoin="miter"/>
<polyline points="346.8,678 346.8,599.5" fill="none" stroke="#fff" stroke-width="3.4" stroke-linecap="square" stroke-linejoin="miter"/>
<polyline points="995.6,605 995.6,552" fill="none" stroke="#fff" stroke-width="3.4" stroke-linecap="square" stroke-linejoin="miter"/>
<polyline points="1042,550.8 909,550.8" fill="none" stroke="#fff" stroke-width="3.4" stroke-linecap="square" stroke-linejoin="miter"/>
<polyline points="867.2,689.5 867.2,551.4" fill="none" stroke="#fff" stroke-width="3.4" stroke-linecap="square" stroke-linejoin="miter"/>
<polyline points="915.1,508.5 915.1,422.7" fill="none" stroke="#fff" stroke-width="3.4" stroke-linecap="square" stroke-linejoin="miter"/>
<polyline points="912.5,501.6 904,501.6" fill="none" stroke="#fff" stroke-width="3.4" stroke-linecap="square" stroke-linejoin="miter"/>
<polyline points="867.7,501 867.7,453" fill="none" stroke="#fff" stroke-width="3.4" stroke-linecap="square" stroke-linejoin="miter"/>
<polyline points="760.2,678 760.2,599.5" fill="none" stroke="#fff" stroke-width="3.4" stroke-linecap="square" stroke-linejoin="miter"/>
<rect x="237" y="152.8" width="9.3" height="54.1" rx="0" fill="none" stroke="#2424c8" stroke-width="1.6" />
<rect x="860.7" y="152.8" width="9.3" height="54.1" rx="0" fill="none" stroke="#2424c8" stroke-width="1.6" />
<rect x="237" y="639.1" width="9.3" height="54.1" rx="0" fill="none" stroke="#2424c8" stroke-width="1.6" />
<rect x="860.7" y="639.1" width="9.3" height="54.1" rx="0" fill="none" stroke="#2424c8" stroke-width="1.6" />
<rect x="61.5" y="419.2" width="44" height="7" rx="0" fill="none" stroke="#2424c8" stroke-width="1.8" />
<rect x="236.8" y="413.8" width="19" height="18.4" rx="0" fill="none" stroke="#2424c8" stroke-width="1.8" />
<rect x="864.6" y="418.8" width="44.4" height="9.1" rx="0" fill="none" stroke="#2424c8" stroke-width="1.8" />
<rect x="1002" y="418.8" width="44" height="9.1" rx="0" fill="none" stroke="#2424c8" stroke-width="1.8" />
<line x1="242.6" y1="378" x2="242.6" y2="467.7" stroke="#e2302f" stroke-width="1.5" />
<line x1="242" y1="392.7" x2="344.3" y2="392.7" stroke="#6464b4" stroke-width="0.75" />
<line x1="762.7" y1="388" x2="865" y2="388" stroke="#6464b4" stroke-width="0.75" />
<line x1="472.6" y1="240.7" x2="634.4" y2="240.7" stroke="#e6d69a" stroke-width="1.3" />
<line x1="472.6" y1="253.2" x2="634.4" y2="253.2" stroke="#e6d69a" stroke-width="1.3" />
<line x1="472.6" y1="265.7" x2="634.4" y2="265.7" stroke="#e6d69a" stroke-width="1.3" />
<line x1="472.6" y1="278.2" x2="634.4" y2="278.2" stroke="#e6d69a" stroke-width="1.3" />
<line x1="472.6" y1="290.7" x2="634.4" y2="290.7" stroke="#e6d69a" stroke-width="1.3" />
<line x1="472.6" y1="303.2" x2="634.4" y2="303.2" stroke="#e6d69a" stroke-width="1.3" />
<line x1="472.6" y1="315.7" x2="634.4" y2="315.7" stroke="#e6d69a" stroke-width="1.3" />
<line x1="472.6" y1="328.2" x2="634.4" y2="328.2" stroke="#e6d69a" stroke-width="1.3" />
<line x1="472.6" y1="340.7" x2="634.4" y2="340.7" stroke="#e6d69a" stroke-width="1.3" />
<line x1="472.6" y1="353.2" x2="634.4" y2="353.2" stroke="#e6d69a" stroke-width="1.3" />
<rect x="551.8" y="238" width="4.2" height="116.3" rx="0" fill="#f6efd6" stroke="#e6d69a" stroke-width="0.9" />
<line x1="519" y1="262.6" x2="519" y2="361.8" stroke="#2ad82a" stroke-width="3" />
<line x1="591" y1="262.6" x2="591" y2="361.8" stroke="#2ad82a" stroke-width="3" />
<line x1="487.6" y1="163" x2="487.6" y2="219" stroke="#c8c8c8" stroke-width="0.9" />
<line x1="553.6" y1="160.4" x2="553.6" y2="240.7" stroke="#6464b4" stroke-width="0.75" />
<line x1="614.6" y1="220.7" x2="614.6" y2="567" stroke="#c8c8c8" stroke-width="0.9" />
<line x1="473" y1="247.8" x2="554" y2="247.8" stroke="#6464b4" stroke-width="0.8" />
<line x1="554" y1="346" x2="634" y2="346" stroke="#6464b4" stroke-width="0.8" />
<polyline points="469,484 469,569.5 639.7,569.5 639.7,484" fill="none" stroke="#2424c8" stroke-width="1.8" stroke-linejoin="miter" />
<polyline points="474,484 474,562.7 633.5,562.7 633.5,484" fill="none" stroke="#2424c8" stroke-width="1.6" stroke-linejoin="miter" />
<rect x="550.5" y="484" width="5.5" height="78.7" rx="0" fill="#fff" stroke="#2424c8" stroke-width="1.5" />
<line x1="474" y1="484.2" x2="633.5" y2="484.2" stroke="#a8a8a8" stroke-width="1" />
<rect x="474" y="484.8" width="15" height="4.2" rx="1.5" fill="#fff" stroke="#2b2b2b" stroke-width="1.4" />
<rect x="535" y="484.8" width="15.5" height="4.2" rx="1.5" fill="#fff" stroke="#2b2b2b" stroke-width="1.4" />
<rect x="556" y="484.8" width="16.7" height="4.2" rx="1.5" fill="#fff" stroke="#2b2b2b" stroke-width="1.4" />
<rect x="617" y="484.8" width="16.5" height="4.2" rx="1.5" fill="#fff" stroke="#2b2b2b" stroke-width="1.4" />
<rect x="467.8" y="469" width="5" height="15" rx="0.8" fill="#fff" stroke="#2b2b2b" stroke-width="1.4" />
<rect x="634.6" y="469" width="5" height="15" rx="0.8" fill="#fff" stroke="#2b2b2b" stroke-width="1.4" />
<line x1="472.4" y1="423" x2="472.4" y2="469" stroke="#5f9aa4" stroke-width="0.9" />
<line x1="634.6" y1="423" x2="634.6" y2="469" stroke="#5f9aa4" stroke-width="0.9" />
<line x1="468" y1="569.5" x2="468" y2="661.4" stroke="#2b2b2b" stroke-width="1.5" />
<line x1="639" y1="569.5" x2="639" y2="661.4" stroke="#2b2b2b" stroke-width="1.5" />
<line x1="473.2" y1="569.5" x2="473.2" y2="661.4" stroke="#e2302f" stroke-width="1.4" />
<line x1="634.2" y1="569.5" x2="634.2" y2="661.4" stroke="#e2302f" stroke-width="1.4" />
<rect x="463.4" y="622.6" width="9.3" height="38" rx="0" fill="none" stroke="#2424c8" stroke-width="1.4" />
<rect x="634.3" y="622.6" width="9.3" height="38" rx="0" fill="none" stroke="#2424c8" stroke-width="1.4" />
<line x1="474" y1="580.8" x2="633.5" y2="580.8" stroke="#c0c0c0" stroke-width="0.9" />
<line x1="486.5" y1="569.5" x2="486.5" y2="661" stroke="#6464b4" stroke-width="0.75" />
<line x1="473" y1="661" x2="490" y2="661" stroke="#6464b4" stroke-width="0.75" />
<line x1="675" y1="473.3" x2="757" y2="473.3" stroke="#e66" stroke-width="1" />
<line x1="350" y1="116.4" x2="467" y2="116.4" stroke="#8a8a8a" stroke-width="1.2" stroke-dasharray="2,2.2"/>
<line x1="350" y1="116.4" x2="350" y2="165" stroke="#6464b4" stroke-width="0.75" />
<line x1="460" y1="116.4" x2="460" y2="185" stroke="#6464b4" stroke-width="0.8" />
<line x1="455" y1="116.4" x2="467" y2="116.4" stroke="#6464b4" stroke-width="0.8" />
<line x1="455" y1="185.4" x2="465" y2="185.4" stroke="#6464b4" stroke-width="0.75" />
<line x1="359" y1="160" x2="359" y2="190" stroke="#6464b4" stroke-width="0.75" />
<line x1="61.5" y1="92.5" x2="1045.5" y2="92.5" stroke="#6464b4" stroke-width="0.75" />
<line x1="61.5" y1="104" x2="1045.5" y2="104" stroke="#6464b4" stroke-width="0.75" />
<line x1="61.5" y1="733" x2="1045.5" y2="733" stroke="#6464b4" stroke-width="0.75" />
<line x1="61.5" y1="742.3" x2="1045.5" y2="742.3" stroke="#6464b4" stroke-width="0.75" />
<line x1="57.5" y1="104" x2="65.5" y2="104" stroke="#6464b4" stroke-width="0.9" />
<line x1="105.5" y1="104" x2="113.5" y2="104" stroke="#6464b4" stroke-width="0.9" />
<line x1="237.3" y1="104" x2="245.3" y2="104" stroke="#6464b4" stroke-width="0.9" />
<line x1="346" y1="104" x2="354" y2="104" stroke="#6464b4" stroke-width="0.9" />
<line x1="463.6" y1="104" x2="471.6" y2="104" stroke="#6464b4" stroke-width="0.9" />
<line x1="635" y1="104" x2="643" y2="104" stroke="#6464b4" stroke-width="0.9" />
<line x1="753" y1="104" x2="761" y2="104" stroke="#6464b4" stroke-width="0.9" />
<line x1="861.7" y1="104" x2="869.7" y2="104" stroke="#6464b4" stroke-width="0.9" />
<line x1="993.8" y1="104" x2="1001.8" y2="104" stroke="#6464b4" stroke-width="0.9" />
<line x1="1041.5" y1="104" x2="1049.5" y2="104" stroke="#6464b4" stroke-width="0.9" />
<line x1="57.5" y1="733" x2="65.5" y2="733" stroke="#6464b4" stroke-width="0.9" />
<line x1="105.5" y1="733" x2="113.5" y2="733" stroke="#6464b4" stroke-width="0.9" />
<line x1="237.3" y1="733" x2="245.3" y2="733" stroke="#6464b4" stroke-width="0.9" />
<line x1="346" y1="733" x2="354" y2="733" stroke="#6464b4" stroke-width="0.9" />
<line x1="468.7" y1="733" x2="476.7" y2="733" stroke="#6464b4" stroke-width="0.9" />
<line x1="630" y1="733" x2="638" y2="733" stroke="#6464b4" stroke-width="0.9" />
<line x1="753" y1="733" x2="761" y2="733" stroke="#6464b4" stroke-width="0.9" />
<line x1="861.7" y1="733" x2="869.7" y2="733" stroke="#6464b4" stroke-width="0.9" />
<line x1="993.8" y1="733" x2="1001.8" y2="733" stroke="#6464b4" stroke-width="0.9" />
<line x1="1041.5" y1="733" x2="1049.5" y2="733" stroke="#6464b4" stroke-width="0.9" />
<line x1="61.5" y1="92.5" x2="61.5" y2="203" stroke="#6464b4" stroke-width="0.75" />
<line x1="109.5" y1="98" x2="109.5" y2="153" stroke="#6464b4" stroke-width="0.75" />
<line x1="241.3" y1="98" x2="241.3" y2="153" stroke="#6464b4" stroke-width="0.75" />
<line x1="350" y1="98" x2="350" y2="165" stroke="#6464b4" stroke-width="0.75" />
<line x1="467.6" y1="98" x2="467.6" y2="161" stroke="#6464b4" stroke-width="0.75" />
<line x1="639" y1="98" x2="639" y2="161" stroke="#6464b4" stroke-width="0.75" />
<line x1="757" y1="98" x2="757" y2="165" stroke="#6464b4" stroke-width="0.75" />
<line x1="865.7" y1="98" x2="865.7" y2="153" stroke="#6464b4" stroke-width="0.75" />
<line x1="997.8" y1="98" x2="997.8" y2="153" stroke="#6464b4" stroke-width="0.75" />
<line x1="1045.5" y1="92.5" x2="1045.5" y2="198" stroke="#6464b4" stroke-width="0.75" />
<line x1="61.5" y1="648" x2="61.5" y2="742.3" stroke="#6464b4" stroke-width="0.75" />
<line x1="109.5" y1="693" x2="109.5" y2="737" stroke="#6464b4" stroke-width="0.75" />
<line x1="241.3" y1="693" x2="241.3" y2="737" stroke="#6464b4" stroke-width="0.75" />
<line x1="350" y1="680" x2="350" y2="737" stroke="#6464b4" stroke-width="0.75" />
<line x1="472.7" y1="661" x2="472.7" y2="737" stroke="#6464b4" stroke-width="0.75" />
<line x1="634" y1="661" x2="634" y2="737" stroke="#6464b4" stroke-width="0.75" />
<line x1="757" y1="680" x2="757" y2="737" stroke="#6464b4" stroke-width="0.75" />
<line x1="865.7" y1="693" x2="865.7" y2="737" stroke="#6464b4" stroke-width="0.75" />
<line x1="997.8" y1="693" x2="997.8" y2="737" stroke="#6464b4" stroke-width="0.75" />
<line x1="1045.5" y1="648" x2="1045.5" y2="742.3" stroke="#6464b4" stroke-width="0.75" />
<line x1="26.3" y1="153" x2="26.3" y2="693.6" stroke="#6464b4" stroke-width="0.75" />
<line x1="22" y1="153" x2="30" y2="153" stroke="#6464b4" stroke-width="0.75" />
<line x1="22" y1="202.4" x2="30" y2="202.4" stroke="#6464b4" stroke-width="0.75" />
<line x1="22" y1="643.8" x2="30" y2="643.8" stroke="#6464b4" stroke-width="0.75" />
<line x1="22" y1="693.6" x2="30" y2="693.6" stroke="#6464b4" stroke-width="0.75" />
<line x1="26.3" y1="153" x2="110" y2="153" stroke="#6464b4" stroke-width="0.75" />
<line x1="26.3" y1="202.4" x2="61.5" y2="202.4" stroke="#6464b4" stroke-width="0.75" />
<line x1="26.3" y1="643.8" x2="61.5" y2="643.8" stroke="#6464b4" stroke-width="0.75" />
<line x1="26.3" y1="693.6" x2="110" y2="693.6" stroke="#6464b4" stroke-width="0.75" />
<line x1="1081" y1="153" x2="1081" y2="693.6" stroke="#6464b4" stroke-width="0.75" />
<line x1="1094" y1="153" x2="1094" y2="693.6" stroke="#6464b4" stroke-width="0.75" />
<line x1="1077" y1="153" x2="1085" y2="153" stroke="#6464b4" stroke-width="0.75" />
<line x1="1077" y1="203" x2="1085" y2="203" stroke="#6464b4" stroke-width="0.75" />
<line x1="1077" y1="643.5" x2="1085" y2="643.5" stroke="#6464b4" stroke-width="0.75" />
<line x1="1077" y1="693.6" x2="1085" y2="693.6" stroke="#6464b4" stroke-width="0.75" />
<line x1="997.8" y1="153" x2="1094" y2="153" stroke="#6464b4" stroke-width="0.75" />
<line x1="1045.5" y1="203" x2="1085" y2="203" stroke="#6464b4" stroke-width="0.75" />
<line x1="1045.5" y1="643.5" x2="1085" y2="643.5" stroke="#6464b4" stroke-width="0.75" />
<line x1="997.8" y1="693.6" x2="1094" y2="693.6" stroke="#6464b4" stroke-width="0.75" />
<g font-family="Liberation Sans" font-weight="bold" fill="#333" stroke="#333" stroke-width="0.7">
<text x="36.9" y="38.6" font-size="29.5" textLength="13.6" lengthAdjust="spacingAndGlyphs">B</text>
<text x="57.6" y="38.6" font-size="29.5" textLength="103.6" lengthAdjust="spacingAndGlyphs">BUILDING</text>
<text x="170.5" y="38.6" font-size="29.5" textLength="9.5" lengthAdjust="spacingAndGlyphs">1</text>
<text x="183.9" y="30.9" font-size="13.6" textLength="15.8" lengthAdjust="spacingAndGlyphs">ST</text>
<text x="207.2" y="38.6" font-size="29.5" textLength="28" lengthAdjust="spacingAndGlyphs">TO</text>
<text x="244.8" y="38.6" font-size="29.5" textLength="23.7" lengthAdjust="spacingAndGlyphs">12</text>
<text x="271.4" y="30.9" font-size="13.6" textLength="15.8" lengthAdjust="spacingAndGlyphs">TH</text>
<text x="297" y="38.6" font-size="29.5" textLength="69.1" lengthAdjust="spacingAndGlyphs">FLOOR</text>
<text x="377" y="38.6" font-size="29.5" textLength="55.3" lengthAdjust="spacingAndGlyphs">PLAN</text>
</g>
<text x="189" y="223.2" text-anchor="middle" font-family="Liberation Sans" font-weight="bold" font-size="10" fill="#2b2b2b" textLength="60.3" lengthAdjust="spacing" stroke="#2b2b2b" stroke-width="0.5">BED ROOM</text>
<text x="189" y="235.2" text-anchor="middle" font-family="Liberation Sans" font-weight="bold" font-size="10" fill="#2b2b2b" textLength="61.5" lengthAdjust="spacing" stroke="#2b2b2b" stroke-width="0.5">3.05 X 3.35</text>
<text x="176" y="165.65" text-anchor="middle" font-family="Liberation Sans" font-weight="bold" font-size="9" fill="#2b2b2b" textLength="14.3" lengthAdjust="spacing" stroke="#2b2b2b" stroke-width="0.5">W2</text>
<text x="108.5" y="228.82" text-anchor="middle" font-family="Liberation Sans" font-weight="bold" font-size="8.5" fill="#2b2b2b" textLength="11.3" lengthAdjust="spacing" stroke="#2b2b2b" stroke-width="0.5">D2</text>
<text x="95.5" y="245.3" text-anchor="middle" font-family="Liberation Sans" font-weight="bold" font-size="10" fill="#2b2b2b" textLength="51.2" lengthAdjust="spacing" stroke="#2b2b2b" stroke-width="0.5">A.TOILET</text>
<text x="93" y="257.5" text-anchor="middle" font-family="Liberation Sans" font-weight="bold" font-size="10" fill="#2b2b2b" textLength="35.7" lengthAdjust="spacing" stroke="#2b2b2b" stroke-width="0.5">1.07 X</text>
<text x="92.5" y="269.5" text-anchor="middle" font-family="Liberation Sans" font-weight="bold" font-size="10" fill="#2b2b2b" textLength="23.4" lengthAdjust="spacing" stroke="#2b2b2b" stroke-width="0.5">2.13</text>
<text x="70.3" y="286.75" text-anchor="middle" font-family="Liberation Sans" font-weight="bold" font-size="9" fill="#2b2b2b" textLength="6.8" lengthAdjust="spacing" stroke="#2b2b2b" stroke-width="0.5">V</text>
<text x="221" y="296.96" text-anchor="middle" font-family="Liberation Sans" font-weight="bold" font-size="8.8" fill="#2b2b2b" textLength="12.5" lengthAdjust="spacing" stroke="#2b2b2b" stroke-width="0.5">D1</text>
<text x="189.6" y="320.46" text-anchor="middle" font-family="Liberation Sans" font-weight="bold" font-size="8.8" fill="#2b2b2b" textLength="12.5" lengthAdjust="spacing" stroke="#2b2b2b" stroke-width="0.5">D1</text>
<text x="222" y="353.96" text-anchor="middle" font-family="Liberation Sans" font-weight="bold" font-size="8.8" fill="#2b2b2b" textLength="12.5" lengthAdjust="spacing" stroke="#2b2b2b" stroke-width="0.5">D2</text>
<text x="137" y="365" text-anchor="middle" font-family="Liberation Sans" font-weight="bold" font-size="10" fill="#2b2b2b" textLength="60.3" lengthAdjust="spacing" stroke="#2b2b2b" stroke-width="0.5">BED ROOM</text>
<text x="137" y="377.5" text-anchor="middle" font-family="Liberation Sans" font-weight="bold" font-size="10" fill="#2b2b2b" textLength="61.5" lengthAdjust="spacing" stroke="#2b2b2b" stroke-width="0.5">3.05 X 3.05</text>
<text x="223.5" y="377.5" text-anchor="middle" font-family="Liberation Sans" font-weight="bold" font-size="10" fill="#2b2b2b" textLength="51.5" lengthAdjust="spacing" stroke="#2b2b2b" stroke-width="0.5">C.TOILET</text>
<text x="218.5" y="390.1" text-anchor="middle" font-family="Liberation Sans" font-weight="bold" font-size="10" fill="#2b2b2b" textLength="33.4" lengthAdjust="spacing" stroke="#2b2b2b" stroke-width="0.5">1.07 X</text>
<text x="221" y="402.2" text-anchor="middle" font-family="Liberation Sans" font-weight="bold" font-size="10" fill="#2b2b2b" textLength="23.1" lengthAdjust="spacing" stroke="#2b2b2b" stroke-width="0.5">1.83</text>
<text x="72.8" y="394.75" text-anchor="middle" font-family="Liberation Sans" font-weight="bold" font-size="9" fill="#2b2b2b" textLength="14.6" lengthAdjust="spacing" stroke="#2b2b2b" stroke-width="0.5">W1</text>
<text x="234.8" y="411.75" text-anchor="middle" font-family="Liberation Sans" font-weight="bold" font-size="9" fill="#2b2b2b" textLength="6.8" lengthAdjust="spacing" stroke="#2b2b2b" stroke-width="0.5">V</text>
<text x="294" y="182.5" text-anchor="middle" font-family="Liberation Sans" font-weight="bold" font-size="10" fill="#2b2b2b" textLength="34.4" lengthAdjust="spacing" stroke="#2b2b2b" stroke-width="0.5">WASH</text>
<text x="297.8" y="195" text-anchor="middle" font-family="Liberation Sans" font-weight="bold" font-size="10" fill="#2b2b2b" textLength="61.3" lengthAdjust="spacing" stroke="#2b2b2b" stroke-width="0.5">2.55 X 0.91</text>
<text x="331.8" y="205.76" text-anchor="middle" font-family="Liberation Sans" font-weight="bold" font-size="8.8" fill="#2b2b2b" textLength="12.6" lengthAdjust="spacing" stroke="#2b2b2b" stroke-width="0.5">D2</text>
<text x="272" y="215.96" text-anchor="middle" font-family="Liberation Sans" font-weight="bold" font-size="8.8" fill="#2b2b2b" textLength="13.8" lengthAdjust="spacing" stroke="#2b2b2b" stroke-width="0.5">W3</text>
<text x="404.6" y="202.5" text-anchor="middle" font-family="Liberation Sans" font-weight="bold" font-size="10" fill="#2b2b2b" textLength="53.3" lengthAdjust="spacing" stroke="#2b2b2b" stroke-width="0.5">BALCONY</text>
<text x="404.6" y="215.1" text-anchor="middle" font-family="Liberation Sans" font-weight="bold" font-size="10" fill="#2b2b2b" textLength="62.3" lengthAdjust="spacing" stroke="#2b2b2b" stroke-width="0.5">2.33 X 0.84</text>
<text x="412" y="233.55" text-anchor="middle" font-family="Liberation Sans" font-weight="bold" font-size="9" fill="#2b2b2b" textLength="8.5" lengthAdjust="spacing" stroke="#2b2b2b" stroke-width="0.5">W</text>
<text x="297.8" y="260" text-anchor="middle" font-family="Liberation Sans" font-weight="bold" font-size="10" fill="#2b2b2b" textLength="44" lengthAdjust="spacing" stroke="#2b2b2b" stroke-width="0.5">KIT./DIN</text>
<text x="300.3" y="272.5" text-anchor="middle" font-family="Liberation Sans" font-weight="bold" font-size="10" fill="#2b2b2b" textLength="62" lengthAdjust="spacing" stroke="#2b2b2b" stroke-width="0.5">2.55 X 4.11</text>
<text x="423.5" y="301" text-anchor="middle" font-family="Liberation Sans" font-weight="bold" font-size="10" fill="#2b2b2b" textLength="76.4" lengthAdjust="spacing" stroke="#2b2b2b" stroke-width="0.5">LIVING ROOM</text>
<text x="419.7" y="313.5" text-anchor="middle" font-family="Liberation Sans" font-weight="bold" font-size="10" fill="#2b2b2b" textLength="61" lengthAdjust="spacing" stroke="#2b2b2b" stroke-width="0.5">3.05 X 4.88</text>
<text x="422" y="328.14" text-anchor="middle" font-family="Liberation Sans" font-weight="bold" font-size="9.2" fill="#dd2424" textLength="98" lengthAdjust="spacing" stroke="#dd2424" stroke-width="0.5">C.A. = 55.35 sq.mt.</text>
<text x="422" y="339.54" text-anchor="middle" font-family="Liberation Sans" font-weight="bold" font-size="9.2" fill="#2222b8" textLength="98" lengthAdjust="spacing" stroke="#2222b8" stroke-width="0.5">B.A. = 59.86 sq.mt.</text>
<text x="297.8" y="427.9" text-anchor="middle" font-family="Liberation Sans" font-weight="bold" font-size="10" fill="#2b2b2b" textLength="27.6" lengthAdjust="spacing" stroke="#2b2b2b" stroke-width="0.5">O.T.S</text>
<text x="936" y="223.2" text-anchor="middle" font-family="Liberation Sans" font-weight="bold" font-size="10" fill="#2b2b2b" textLength="60.3" lengthAdjust="spacing" stroke="#2b2b2b" stroke-width="0.5">BED ROOM</text>
<text x="936" y="235.2" text-anchor="middle" font-family="Liberation Sans" font-weight="bold" font-size="10" fill="#2b2b2b" textLength="61.5" lengthAdjust="spacing" stroke="#2b2b2b" stroke-width="0.5">3.05 X 3.35</text>
<text x="935.5" y="165.65" text-anchor="middle" font-family="Liberation Sans" font-weight="bold" font-size="9" fill="#2b2b2b" textLength="14.3" lengthAdjust="spacing" stroke="#2b2b2b" stroke-width="0.5">W2</text>
<text x="1002" y="228.82" text-anchor="middle" font-family="Liberation Sans" font-weight="bold" font-size="8.5" fill="#2b2b2b" textLength="11.3" lengthAdjust="spacing" stroke="#2b2b2b" stroke-width="0.5">D2</text>
<text x="1028.5" y="245.3" text-anchor="middle" font-family="Liberation Sans" font-weight="bold" font-size="10" fill="#2b2b2b" textLength="51.2" lengthAdjust="spacing" stroke="#2b2b2b" stroke-width="0.5">A.TOILET</text>
<text x="1024.7" y="257.5" text-anchor="middle" font-family="Liberation Sans" font-weight="bold" font-size="10" fill="#2b2b2b" textLength="35.7" lengthAdjust="spacing" stroke="#2b2b2b" stroke-width="0.5">1.07 X</text>
<text x="1026" y="269.5" text-anchor="middle" font-family="Liberation Sans" font-weight="bold" font-size="10" fill="#2b2b2b" textLength="23.4" lengthAdjust="spacing" stroke="#2b2b2b" stroke-width="0.5">2.13</text>
<text x="1041" y="286.75" text-anchor="middle" font-family="Liberation Sans" font-weight="bold" font-size="9" fill="#2b2b2b" textLength="6.8" lengthAdjust="spacing" stroke="#2b2b2b" stroke-width="0.5">V</text>
<text x="889" y="297.46" text-anchor="middle" font-family="Liberation Sans" font-weight="bold" font-size="8.8" fill="#2b2b2b" textLength="12.5" lengthAdjust="spacing" stroke="#2b2b2b" stroke-width="0.5">D1</text>
<text x="920.4" y="320.46" text-anchor="middle" font-family="Liberation Sans" font-weight="bold" font-size="8.8" fill="#2b2b2b" textLength="12.5" lengthAdjust="spacing" stroke="#2b2b2b" stroke-width="0.5">D1</text>
<text x="887.8" y="353.96" text-anchor="middle" font-family="Liberation Sans" font-weight="bold" font-size="8.8" fill="#2b2b2b" textLength="12.5" lengthAdjust="spacing" stroke="#2b2b2b" stroke-width="0.5">D2</text>
<text x="988.8" y="365" text-anchor="middle" font-family="Liberation Sans" font-weight="bold" font-size="10" fill="#2b2b2b" textLength="60.3" lengthAdjust="spacing" stroke="#2b2b2b" stroke-width="0.5">BED ROOM</text>
<text x="988.8" y="377.5" text-anchor="middle" font-family="Liberation Sans" font-weight="bold" font-size="10" fill="#2b2b2b" textLength="61.5" lengthAdjust="spacing" stroke="#2b2b2b" stroke-width="0.5">3.05 X 3.05</text>
<text x="899.8" y="377.5" text-anchor="middle" font-family="Liberation Sans" font-weight="bold" font-size="10" fill="#2b2b2b" textLength="51.5" lengthAdjust="spacing" stroke="#2b2b2b" stroke-width="0.5">C.TOILET</text>
<text x="895.3" y="390.1" text-anchor="middle" font-family="Liberation Sans" font-weight="bold" font-size="10" fill="#2b2b2b" textLength="33.4" lengthAdjust="spacing" stroke="#2b2b2b" stroke-width="0.5">1.07 X</text>
<text x="897.3" y="402.2" text-anchor="middle" font-family="Liberation Sans" font-weight="bold" font-size="10" fill="#2b2b2b" textLength="23.1" lengthAdjust="spacing" stroke="#2b2b2b" stroke-width="0.5">1.83</text>
<text x="1036" y="394.75" text-anchor="middle" font-family="Liberation Sans" font-weight="bold" font-size="9" fill="#2b2b2b" textLength="14.6" lengthAdjust="spacing" stroke="#2b2b2b" stroke-width="0.5">W1</text>
<text x="874.7" y="411.75" text-anchor="middle" font-family="Liberation Sans" font-weight="bold" font-size="9" fill="#2b2b2b" textLength="6.8" lengthAdjust="spacing" stroke="#2b2b2b" stroke-width="0.5">V</text>
<text x="824" y="182.5" text-anchor="middle" font-family="Liberation Sans" font-weight="bold" font-size="10" fill="#2b2b2b" textLength="34.4" lengthAdjust="spacing" stroke="#2b2b2b" stroke-width="0.5">WASH</text>
<text x="827" y="195" text-anchor="middle" font-family="Liberation Sans" font-weight="bold" font-size="10" fill="#2b2b2b" textLength="61.3" lengthAdjust="spacing" stroke="#2b2b2b" stroke-width="0.5">2.55 X 0.91</text>
<text x="780.3" y="205.76" text-anchor="middle" font-family="Liberation Sans" font-weight="bold" font-size="8.8" fill="#2b2b2b" textLength="12.6" lengthAdjust="spacing" stroke="#2b2b2b" stroke-width="0.5">D2</text>
<text x="838.6" y="215.96" text-anchor="middle" font-family="Liberation Sans" font-weight="bold" font-size="8.8" fill="#2b2b2b" textLength="13.8" lengthAdjust="spacing" stroke="#2b2b2b" stroke-width="0.5">W3</text>
<text x="720" y="202.5" text-anchor="middle" font-family="Liberation Sans" font-weight="bold" font-size="10" fill="#2b2b2b" textLength="53.3" lengthAdjust="spacing" stroke="#2b2b2b" stroke-width="0.5">BALCONY</text>
<text x="720.5" y="215.1" text-anchor="middle" font-family="Liberation Sans" font-weight="bold" font-size="10" fill="#2b2b2b" textLength="62.3" lengthAdjust="spacing" stroke="#2b2b2b" stroke-width="0.5">2.33 X 0.84</text>
<text x="697.4" y="233.55" text-anchor="middle" font-family="Liberation Sans" font-weight="bold" font-size="9" fill="#2b2b2b" textLength="8.5" lengthAdjust="spacing" stroke="#2b2b2b" stroke-width="0.5">W</text>
<text x="823.5" y="260" text-anchor="middle" font-family="Liberation Sans" font-weight="bold" font-size="10" fill="#2b2b2b" textLength="44" lengthAdjust="spacing" stroke="#2b2b2b" stroke-width="0.5">KIT./DIN</text>
<text x="824.8" y="272.5" text-anchor="middle" font-family="Liberation Sans" font-weight="bold" font-size="10" fill="#2b2b2b" textLength="62" lengthAdjust="spacing" stroke="#2b2b2b" stroke-width="0.5">2.55 X 4.11</text>
<text x="709" y="299.7" text-anchor="middle" font-family="Liberation Sans" font-weight="bold" font-size="10" fill="#2b2b2b" textLength="76.4" lengthAdjust="spacing" stroke="#2b2b2b" stroke-width="0.5">LIVING ROOM</text>
<text x="705.4" y="311.8" text-anchor="middle" font-family="Liberation Sans" font-weight="bold" font-size="10" fill="#2b2b2b" textLength="61" lengthAdjust="spacing" stroke="#2b2b2b" stroke-width="0.5">3.05 X 4.88</text>
<text x="709" y="328.14" text-anchor="middle" font-family="Liberation Sans" font-weight="bold" font-size="9.2" fill="#dd2424" textLength="98" lengthAdjust="spacing" stroke="#dd2424" stroke-width="0.5">C.A. = 55.35 sq.mt.</text>
<text x="709" y="339.54" text-anchor="middle" font-family="Liberation Sans" font-weight="bold" font-size="9.2" fill="#2222b8" textLength="98" lengthAdjust="spacing" stroke="#2222b8" stroke-width="0.5">B.A. = 59.86 sq.mt.</text>
<text x="818.5" y="427.9" text-anchor="middle" font-family="Liberation Sans" font-weight="bold" font-size="10" fill="#2b2b2b" textLength="27.6" lengthAdjust="spacing" stroke="#2b2b2b" stroke-width="0.5">O.T.S</text>
<text x="72.8" y="454.05" text-anchor="middle" font-family="Liberation Sans" font-weight="bold" font-size="9" fill="#2b2b2b" textLength="14.6" lengthAdjust="spacing" stroke="#2b2b2b" stroke-width="0.5">W1</text>
<text x="137" y="479.3" text-anchor="middle" font-family="Liberation Sans" font-weight="bold" font-size="10" fill="#2b2b2b" textLength="60.3" lengthAdjust="spacing" stroke="#2b2b2b" stroke-width="0.5">BED ROOM</text>
<text x="137" y="491.8" text-anchor="middle" font-family="Liberation Sans" font-weight="bold" font-size="10" fill="#2b2b2b" textLength="61.5" lengthAdjust="spacing" stroke="#2b2b2b" stroke-width="0.5">3.05 X 3.05</text>
<text x="223.5" y="454.5" text-anchor="middle" font-family="Liberation Sans" font-weight="bold" font-size="10" fill="#2b2b2b" textLength="51.5" lengthAdjust="spacing" stroke="#2b2b2b" stroke-width="0.5">C.TOILET</text>
<text x="218.5" y="466" text-anchor="middle" font-family="Liberation Sans" font-weight="bold" font-size="10" fill="#2b2b2b" textLength="33.4" lengthAdjust="spacing" stroke="#2b2b2b" stroke-width="0.5">1.07 X</text>
<text x="221" y="478.5" text-anchor="middle" font-family="Liberation Sans" font-weight="bold" font-size="10" fill="#2b2b2b" textLength="23.1" lengthAdjust="spacing" stroke="#2b2b2b" stroke-width="0.5">1.83</text>
<text x="234.8" y="442.05" text-anchor="middle" font-family="Liberation Sans" font-weight="bold" font-size="9" fill="#2b2b2b" textLength="6.8" lengthAdjust="spacing" stroke="#2b2b2b" stroke-width="0.5">V</text>
<text x="222" y="500.56" text-anchor="middle" font-family="Liberation Sans" font-weight="bold" font-size="8.8" fill="#2b2b2b" textLength="12.5" lengthAdjust="spacing" stroke="#2b2b2b" stroke-width="0.5">D2</text>
<text x="189.6" y="533.96" text-anchor="middle" font-family="Liberation Sans" font-weight="bold" font-size="8.8" fill="#2b2b2b" textLength="12.5" lengthAdjust="spacing" stroke="#2b2b2b" stroke-width="0.5">D1</text>
<text x="221" y="556.96" text-anchor="middle" font-family="Liberation Sans" font-weight="bold" font-size="8.8" fill="#2b2b2b" textLength="12.5" lengthAdjust="spacing" stroke="#2b2b2b" stroke-width="0.5">D1</text>
<text x="70.3" y="568.55" text-anchor="middle" font-family="Liberation Sans" font-weight="bold" font-size="9" fill="#2b2b2b" textLength="6.8" lengthAdjust="spacing" stroke="#2b2b2b" stroke-width="0.5">V</text>
<text x="95.5" y="586" text-anchor="middle" font-family="Liberation Sans" font-weight="bold" font-size="10" fill="#2b2b2b" textLength="51.2" lengthAdjust="spacing" stroke="#2b2b2b" stroke-width="0.5">A.TOILET</text>
<text x="93" y="598.5" text-anchor="middle" font-family="Liberation Sans" font-weight="bold" font-size="10" fill="#2b2b2b" textLength="35.7" lengthAdjust="spacing" stroke="#2b2b2b" stroke-width="0.5">1.07 X</text>
<text x="92.5" y="611.1" text-anchor="middle" font-family="Liberation Sans" font-weight="bold" font-size="10" fill="#2b2b2b" textLength="23.4" lengthAdjust="spacing" stroke="#2b2b2b" stroke-width="0.5">2.13</text>
<text x="108.5" y="625.53" text-anchor="middle" font-family="Liberation Sans" font-weight="bold" font-size="8.5" fill="#2b2b2b" textLength="11.3" lengthAdjust="spacing" stroke="#2b2b2b" stroke-width="0.5">D2</text>
<text x="189" y="620.7" text-anchor="middle" font-family="Liberation Sans" font-weight="bold" font-size="10" fill="#2b2b2b" textLength="60.3" lengthAdjust="spacing" stroke="#2b2b2b" stroke-width="0.5">BED ROOM</text>
<text x="189" y="633.3" text-anchor="middle" font-family="Liberation Sans" font-weight="bold" font-size="10" fill="#2b2b2b" textLength="61.5" lengthAdjust="spacing" stroke="#2b2b2b" stroke-width="0.5">3.05 X 3.35</text>
<text x="176" y="689.35" text-anchor="middle" font-family="Liberation Sans" font-weight="bold" font-size="9" fill="#2b2b2b" textLength="14.3" lengthAdjust="spacing" stroke="#2b2b2b" stroke-width="0.5">W2</text>
<text x="272" y="637.76" text-anchor="middle" font-family="Liberation Sans" font-weight="bold" font-size="8.8" fill="#2b2b2b" textLength="13.8" lengthAdjust="spacing" stroke="#2b2b2b" stroke-width="0.5">W3</text>
<text x="331.8" y="648.96" text-anchor="middle" font-family="Liberation Sans" font-weight="bold" font-size="8.8" fill="#2b2b2b" textLength="12.6" lengthAdjust="spacing" stroke="#2b2b2b" stroke-width="0.5">D2</text>
<text x="294" y="660.9" text-anchor="middle" font-family="Liberation Sans" font-weight="bold" font-size="10" fill="#2b2b2b" textLength="34.4" lengthAdjust="spacing" stroke="#2b2b2b" stroke-width="0.5">WASH</text>
<text x="297.8" y="673.5" text-anchor="middle" font-family="Liberation Sans" font-weight="bold" font-size="10" fill="#2b2b2b" textLength="61.3" lengthAdjust="spacing" stroke="#2b2b2b" stroke-width="0.5">2.55 X 0.91</text>
<text x="412" y="621.55" text-anchor="middle" font-family="Liberation Sans" font-weight="bold" font-size="9" fill="#2b2b2b" textLength="8.5" lengthAdjust="spacing" stroke="#2b2b2b" stroke-width="0.5">W</text>
<text x="404.6" y="640.8" text-anchor="middle" font-family="Liberation Sans" font-weight="bold" font-size="10" fill="#2b2b2b" textLength="53.3" lengthAdjust="spacing" stroke="#2b2b2b" stroke-width="0.5">BALCONY</text>
<text x="404.6" y="653.4" text-anchor="middle" font-family="Liberation Sans" font-weight="bold" font-size="10" fill="#2b2b2b" textLength="62.3" lengthAdjust="spacing" stroke="#2b2b2b" stroke-width="0.5">2.33 X 0.84</text>
<text x="297.8" y="583.3" text-anchor="middle" font-family="Liberation Sans" font-weight="bold" font-size="10" fill="#2b2b2b" textLength="44" lengthAdjust="spacing" stroke="#2b2b2b" stroke-width="0.5">KIT./DIN</text>
<text x="300.3" y="595.9" text-anchor="middle" font-family="Liberation Sans" font-weight="bold" font-size="10" fill="#2b2b2b" textLength="62" lengthAdjust="spacing" stroke="#2b2b2b" stroke-width="0.5">2.55 X 4.11</text>
<text x="418.4" y="512.9" text-anchor="middle" font-family="Liberation Sans" font-weight="bold" font-size="10" fill="#2b2b2b" textLength="76.4" lengthAdjust="spacing" stroke="#2b2b2b" stroke-width="0.5">LIVING ROOM</text>
<text x="414.7" y="525.5" text-anchor="middle" font-family="Liberation Sans" font-weight="bold" font-size="10" fill="#2b2b2b" textLength="61" lengthAdjust="spacing" stroke="#2b2b2b" stroke-width="0.5">3.05 X 4.88</text>
<text x="418.7" y="540.14" text-anchor="middle" font-family="Liberation Sans" font-weight="bold" font-size="9.2" fill="#dd2424" textLength="97.4" lengthAdjust="spacing" stroke="#dd2424" stroke-width="0.5">C.A. = 55.35 sq.mt.</text>
<text x="418.7" y="551.74" text-anchor="middle" font-family="Liberation Sans" font-weight="bold" font-size="9.2" fill="#2222b8" textLength="97.4" lengthAdjust="spacing" stroke="#2222b8" stroke-width="0.5">B.A. = 59.86 sq.mt.</text>
<text x="1036" y="454.05" text-anchor="middle" font-family="Liberation Sans" font-weight="bold" font-size="9" fill="#2b2b2b" textLength="14.6" lengthAdjust="spacing" stroke="#2b2b2b" stroke-width="0.5">W1</text>
<text x="988.8" y="479.3" text-anchor="middle" font-family="Liberation Sans" font-weight="bold" font-size="10" fill="#2b2b2b" textLength="60.3" lengthAdjust="spacing" stroke="#2b2b2b" stroke-width="0.5">BED ROOM</text>
<text x="988.8" y="491.8" text-anchor="middle" font-family="Liberation Sans" font-weight="bold" font-size="10" fill="#2b2b2b" textLength="61.5" lengthAdjust="spacing" stroke="#2b2b2b" stroke-width="0.5">3.05 X 3.05</text>
<text x="899.8" y="454.5" text-anchor="middle" font-family="Liberation Sans" font-weight="bold" font-size="10" fill="#2b2b2b" textLength="51.5" lengthAdjust="spacing" stroke="#2b2b2b" stroke-width="0.5">C.TOILET</text>
<text x="895.3" y="466" text-anchor="middle" font-family="Liberation Sans" font-weight="bold" font-size="10" fill="#2b2b2b" textLength="33.4" lengthAdjust="spacing" stroke="#2b2b2b" stroke-width="0.5">1.07 X</text>
<text x="897.3" y="478.5" text-anchor="middle" font-family="Liberation Sans" font-weight="bold" font-size="10" fill="#2b2b2b" textLength="23.1" lengthAdjust="spacing" stroke="#2b2b2b" stroke-width="0.5">1.83</text>
<text x="874.7" y="442.05" text-anchor="middle" font-family="Liberation Sans" font-weight="bold" font-size="9" fill="#2b2b2b" textLength="6.8" lengthAdjust="spacing" stroke="#2b2b2b" stroke-width="0.5">V</text>
<text x="887.6" y="500.56" text-anchor="middle" font-family="Liberation Sans" font-weight="bold" font-size="8.8" fill="#2b2b2b" textLength="12.5" lengthAdjust="spacing" stroke="#2b2b2b" stroke-width="0.5">D2</text>
<text x="920.4" y="533.96" text-anchor="middle" font-family="Liberation Sans" font-weight="bold" font-size="8.8" fill="#2b2b2b" textLength="12.5" lengthAdjust="spacing" stroke="#2b2b2b" stroke-width="0.5">D1</text>
<text x="890" y="556.96" text-anchor="middle" font-family="Liberation Sans" font-weight="bold" font-size="8.8" fill="#2b2b2b" textLength="12.5" lengthAdjust="spacing" stroke="#2b2b2b" stroke-width="0.5">D1</text>
<text x="1041" y="568.55" text-anchor="middle" font-family="Liberation Sans" font-weight="bold" font-size="9" fill="#2b2b2b" textLength="6.8" lengthAdjust="spacing" stroke="#2b2b2b" stroke-width="0.5">V</text>
<text x="1028.5" y="586" text-anchor="middle" font-family="Liberation Sans" font-weight="bold" font-size="10" fill="#2b2b2b" textLength="51.2" lengthAdjust="spacing" stroke="#2b2b2b" stroke-width="0.5">A.TOILET</text>
<text x="1024.7" y="598.5" text-anchor="middle" font-family="Liberation Sans" font-weight="bold" font-size="10" fill="#2b2b2b" textLength="35.7" lengthAdjust="spacing" stroke="#2b2b2b" stroke-width="0.5">1.07 X</text>
<text x="1026" y="611.1" text-anchor="middle" font-family="Liberation Sans" font-weight="bold" font-size="10" fill="#2b2b2b" textLength="23.4" lengthAdjust="spacing" stroke="#2b2b2b" stroke-width="0.5">2.13</text>
<text x="1002" y="625.53" text-anchor="middle" font-family="Liberation Sans" font-weight="bold" font-size="8.5" fill="#2b2b2b" textLength="11.3" lengthAdjust="spacing" stroke="#2b2b2b" stroke-width="0.5">D2</text>
<text x="936" y="620.7" text-anchor="middle" font-family="Liberation Sans" font-weight="bold" font-size="10" fill="#2b2b2b" textLength="60.3" lengthAdjust="spacing" stroke="#2b2b2b" stroke-width="0.5">BED ROOM</text>
<text x="936" y="633.3" text-anchor="middle" font-family="Liberation Sans" font-weight="bold" font-size="10" fill="#2b2b2b" textLength="61.5" lengthAdjust="spacing" stroke="#2b2b2b" stroke-width="0.5">3.05 X 3.35</text>
<text x="935.5" y="689.35" text-anchor="middle" font-family="Liberation Sans" font-weight="bold" font-size="9" fill="#2b2b2b" textLength="14.3" lengthAdjust="spacing" stroke="#2b2b2b" stroke-width="0.5">W2</text>
<text x="838.6" y="637.76" text-anchor="middle" font-family="Liberation Sans" font-weight="bold" font-size="8.8" fill="#2b2b2b" textLength="13.8" lengthAdjust="spacing" stroke="#2b2b2b" stroke-width="0.5">W3</text>
<text x="780.3" y="648.96" text-anchor="middle" font-family="Liberation Sans" font-weight="bold" font-size="8.8" fill="#2b2b2b" textLength="12.6" lengthAdjust="spacing" stroke="#2b2b2b" stroke-width="0.5">D2</text>
<text x="824" y="660.9" text-anchor="middle" font-family="Liberation Sans" font-weight="bold" font-size="10" fill="#2b2b2b" textLength="34.4" lengthAdjust="spacing" stroke="#2b2b2b" stroke-width="0.5">WASH</text>
<text x="828" y="673.5" text-anchor="middle" font-family="Liberation Sans" font-weight="bold" font-size="10" fill="#2b2b2b" textLength="61.3" lengthAdjust="spacing" stroke="#2b2b2b" stroke-width="0.5">2.55 X 0.91</text>
<text x="697.4" y="615.75" text-anchor="middle" font-family="Liberation Sans" font-weight="bold" font-size="9" fill="#2b2b2b" textLength="8.5" lengthAdjust="spacing" stroke="#2b2b2b" stroke-width="0.5">W</text>
<text x="720" y="640.8" text-anchor="middle" font-family="Liberation Sans" font-weight="bold" font-size="10" fill="#2b2b2b" textLength="53.3" lengthAdjust="spacing" stroke="#2b2b2b" stroke-width="0.5">BALCONY</text>
<text x="720.5" y="653.4" text-anchor="middle" font-family="Liberation Sans" font-weight="bold" font-size="10" fill="#2b2b2b" textLength="62.3" lengthAdjust="spacing" stroke="#2b2b2b" stroke-width="0.5">2.33 X 0.84</text>
<text x="823" y="583.3" text-anchor="middle" font-family="Liberation Sans" font-weight="bold" font-size="10" fill="#2b2b2b" textLength="44" lengthAdjust="spacing" stroke="#2b2b2b" stroke-width="0.5">KIT./DIN</text>
<text x="824.8" y="595.9" text-anchor="middle" font-family="Liberation Sans" font-weight="bold" font-size="10" fill="#2b2b2b" textLength="62" lengthAdjust="spacing" stroke="#2b2b2b" stroke-width="0.5">2.55 X 4.11</text>
<text x="710" y="512.9" text-anchor="middle" font-family="Liberation Sans" font-weight="bold" font-size="10" fill="#2b2b2b" textLength="76.4" lengthAdjust="spacing" stroke="#2b2b2b" stroke-width="0.5">LIVING ROOM</text>
<text x="706.7" y="525.5" text-anchor="middle" font-family="Liberation Sans" font-weight="bold" font-size="10" fill="#2b2b2b" textLength="61" lengthAdjust="spacing" stroke="#2b2b2b" stroke-width="0.5">3.05 X 4.88</text>
<text x="712.3" y="540.14" text-anchor="middle" font-family="Liberation Sans" font-weight="bold" font-size="9.2" fill="#dd2424" textLength="99.4" lengthAdjust="spacing" stroke="#dd2424" stroke-width="0.5">C.A. = 55.35 sq.mt.</text>
<text x="712.3" y="551.74" text-anchor="middle" font-family="Liberation Sans" font-weight="bold" font-size="9.2" fill="#2222b8" textLength="99.4" lengthAdjust="spacing" stroke="#2222b8" stroke-width="0.5">B.A. = 59.86 sq.mt.</text>
<text x="567.6" y="413.88" text-anchor="middle" font-family="Liberation Sans" font-weight="bold" font-size="13.5" fill="#e02828" textLength="57.8" lengthAdjust="spacing" stroke="#e02828" stroke-width="0.5">B BLDG</text>
<text x="559.3" y="436.5" text-anchor="middle" font-family="Liberation Sans" font-weight="bold" font-size="10" fill="#2b2b2b" textLength="51.8" lengthAdjust="spacing" stroke="#2b2b2b" stroke-width="0.5">PASSAGE</text>
<text x="560.6" y="448.9" text-anchor="middle" font-family="Liberation Sans" font-weight="bold" font-size="10" fill="#2b2b2b" textLength="61.6" lengthAdjust="spacing" stroke="#2b2b2b" stroke-width="0.5">4.00 X 3.26</text>
<text x="521.6" y="370.5" text-anchor="middle" font-family="Liberation Sans" font-weight="bold" font-size="10" fill="#2b2b2b" textLength="15" lengthAdjust="spacing" stroke="#2b2b2b" stroke-width="0.5">UP</text>
<text x="593" y="370.5" text-anchor="middle" font-family="Liberation Sans" font-weight="bold" font-size="10" fill="#2b2b2b" textLength="15.6" lengthAdjust="spacing" stroke="#2b2b2b" stroke-width="0.5">DN</text>
<text x="517.9" y="521.43" text-anchor="middle" font-family="Liberation Sans" font-weight="bold" font-size="10.5" fill="#e02828" textLength="54.3" lengthAdjust="spacing" stroke="#e02828" stroke-width="0.5">FIRE LIFT</text>
<text x="517.9" y="534.02" text-anchor="middle" font-family="Liberation Sans" font-weight="bold" font-size="10.5" fill="#e02828" textLength="61.3" lengthAdjust="spacing" stroke="#e02828" stroke-width="0.5">1.90 X 1.83</text>
<text x="599.5" y="521.2" text-anchor="middle" font-family="Liberation Sans" font-weight="bold" font-size="10" fill="#2b2b2b" textLength="23.6" lengthAdjust="spacing" stroke="#2b2b2b" stroke-width="0.5">LIFT</text>
<text x="604.6" y="533.8" text-anchor="middle" font-family="Liberation Sans" font-weight="bold" font-size="10" fill="#2b2b2b" textLength="61.3" lengthAdjust="spacing" stroke="#2b2b2b" stroke-width="0.5">1.90 X 1.83</text>
<text x="452.4" y="405.1" text-anchor="middle" font-family="Liberation Sans" font-weight="bold" font-size="14" fill="#de2ede" textLength="19.3" lengthAdjust="spacing" stroke="#de2ede" stroke-width="0.5">[4]</text>
<text x="466.7" y="404.82" text-anchor="middle" font-family="Liberation Sans" font-weight="bold" font-size="8.5" fill="#2b2b2b" textLength="6.5" lengthAdjust="spacing" stroke="#2b2b2b" stroke-width="0.5">D</text>
<text x="452.4" y="457" text-anchor="middle" font-family="Liberation Sans" font-weight="bold" font-size="14" fill="#de2ede" textLength="19.3" lengthAdjust="spacing" stroke="#de2ede" stroke-width="0.5">[3]</text>
<text x="467.4" y="460.52" text-anchor="middle" font-family="Liberation Sans" font-weight="bold" font-size="8.5" fill="#2b2b2b" textLength="6.5" lengthAdjust="spacing" stroke="#2b2b2b" stroke-width="0.5">D</text>
<text x="661.5" y="403.8" text-anchor="middle" font-family="Liberation Sans" font-weight="bold" font-size="14" fill="#de2ede" textLength="19.3" lengthAdjust="spacing" stroke="#de2ede" stroke-width="0.5">[1]</text>
<text x="642.6" y="404.82" text-anchor="middle" font-family="Liberation Sans" font-weight="bold" font-size="8.5" fill="#2b2b2b" textLength="6.5" lengthAdjust="spacing" stroke="#2b2b2b" stroke-width="0.5">D</text>
<text x="661" y="453.3" text-anchor="middle" font-family="Liberation Sans" font-weight="bold" font-size="14" fill="#de2ede" textLength="19.3" lengthAdjust="spacing" stroke="#de2ede" stroke-width="0.5">[2]</text>
<text x="641" y="460.52" text-anchor="middle" font-family="Liberation Sans" font-weight="bold" font-size="8.5" fill="#2b2b2b" textLength="6.5" lengthAdjust="spacing" stroke="#2b2b2b" stroke-width="0.5">D</text>
<text x="140" y="138.42" text-anchor="start" font-family="Liberation Sans" font-weight="bold" font-size="7.6" fill="#8c8c8c" textLength="80.4" lengthAdjust="spacing" stroke="#8c8c8c" stroke-width="0.2">0.60 mt. WIDE A.P. @</text>
<text x="140" y="147.92" text-anchor="start" font-family="Liberation Sans" font-weight="bold" font-size="7.6" fill="#8c8c8c" textLength="54.5" lengthAdjust="spacing" stroke="#8c8c8c" stroke-width="0.2">Beam Bottdat</text>
<text x="382" y="171.42" text-anchor="start" font-family="Liberation Sans" font-weight="bold" font-size="7.6" fill="#8c8c8c" textLength="80.4" lengthAdjust="spacing" stroke="#8c8c8c" stroke-width="0.2">0.60 mt. WIDE A.P. @</text>
<text x="382" y="180.12" text-anchor="start" font-family="Liberation Sans" font-weight="bold" font-size="7.6" fill="#8c8c8c" textLength="54.5" lengthAdjust="spacing" stroke="#8c8c8c" stroke-width="0.2">Beam Bottdat</text>
<text x="685" y="171.42" text-anchor="start" font-family="Liberation Sans" font-weight="bold" font-size="7.6" fill="#8c8c8c" textLength="80.4" lengthAdjust="spacing" stroke="#8c8c8c" stroke-width="0.2">0.60 mt. WIDE A.P. @</text>
<text x="685" y="180.12" text-anchor="start" font-family="Liberation Sans" font-weight="bold" font-size="7.6" fill="#8c8c8c" textLength="54.5" lengthAdjust="spacing" stroke="#8c8c8c" stroke-width="0.2">Beam Bottdat</text>
<text x="909" y="139.92" text-anchor="start" font-family="Liberation Sans" font-weight="bold" font-size="7.6" fill="#8c8c8c" textLength="80.4" lengthAdjust="spacing" stroke="#8c8c8c" stroke-width="0.2">0.60 mt. WIDE A.P. @</text>
<text x="909" y="149.22" text-anchor="start" font-family="Liberation Sans" font-weight="bold" font-size="7.6" fill="#8c8c8c" textLength="54.5" lengthAdjust="spacing" stroke="#8c8c8c" stroke-width="0.2">Beam Bottdat</text>
<text x="149.5" y="705.42" text-anchor="start" font-family="Liberation Sans" font-weight="bold" font-size="7.6" fill="#8c8c8c" textLength="80.4" lengthAdjust="spacing" stroke="#8c8c8c" stroke-width="0.2">0.60 mt. WIDE A.P. @</text>
<text x="149.5" y="714.62" text-anchor="start" font-family="Liberation Sans" font-weight="bold" font-size="7.6" fill="#8c8c8c" textLength="54.5" lengthAdjust="spacing" stroke="#8c8c8c" stroke-width="0.2">Beam Bottdat</text>
<text x="378" y="672.42" text-anchor="start" font-family="Liberation Sans" font-weight="bold" font-size="7.6" fill="#8c8c8c" textLength="80.4" lengthAdjust="spacing" stroke="#8c8c8c" stroke-width="0.2">0.60 mt. WIDE A.P. @</text>
<text x="378" y="681.92" text-anchor="start" font-family="Liberation Sans" font-weight="bold" font-size="7.6" fill="#8c8c8c" textLength="54.5" lengthAdjust="spacing" stroke="#8c8c8c" stroke-width="0.2">Beam Bottdat</text>
<text x="671.5" y="672.42" text-anchor="start" font-family="Liberation Sans" font-weight="bold" font-size="7.6" fill="#8c8c8c" textLength="80.4" lengthAdjust="spacing" stroke="#8c8c8c" stroke-width="0.2">0.60 mt. WIDE A.P. @</text>
<text x="671.5" y="681.92" text-anchor="start" font-family="Liberation Sans" font-weight="bold" font-size="7.6" fill="#8c8c8c" textLength="54.5" lengthAdjust="spacing" stroke="#8c8c8c" stroke-width="0.2">Beam Bottdat</text>
<text x="911.6" y="707.42" text-anchor="start" font-family="Liberation Sans" font-weight="bold" font-size="7.6" fill="#8c8c8c" textLength="80.4" lengthAdjust="spacing" stroke="#8c8c8c" stroke-width="0.2">0.60 mt. WIDE A.P. @</text>
<text x="911.6" y="717.12" text-anchor="start" font-family="Liberation Sans" font-weight="bold" font-size="7.6" fill="#8c8c8c" textLength="54.5" lengthAdjust="spacing" stroke="#8c8c8c" stroke-width="0.2">Beam Bottdat</text>
<text x="427.7" y="138.22" text-anchor="middle" font-family="Liberation Sans" font-weight="bold" font-size="7.6" fill="#8c8c8c" textLength="126.9" lengthAdjust="spacing" stroke="#8c8c8c" stroke-width="0.2">CANOPY @ BEAM  BOTTOM.LVL.</text>
<text transform="translate(44.6,379) rotate(-90)" x="0" y="2.74" text-anchor="middle" font-family="Liberation Sans" font-weight="bold" font-size="7.6" fill="#8c8c8c" textLength="80.4" lengthAdjust="spacing" stroke="#8c8c8c" stroke-width="0.2">0.60 mt. WIDE A.P. @</text>
<text transform="translate(52.3,378) rotate(-90)" x="0" y="2.74" text-anchor="middle" font-family="Liberation Sans" font-weight="bold" font-size="7.6" fill="#8c8c8c" textLength="54.5" lengthAdjust="spacing" stroke="#8c8c8c" stroke-width="0.2">Beam Bottdat</text>
<text transform="translate(44.6,419.5) rotate(-90)" x="0" y="2.74" text-anchor="middle" font-family="Liberation Sans" font-weight="bold" font-size="7.6" fill="#8c8c8c" textLength="80.4" lengthAdjust="spacing" stroke="#8c8c8c" stroke-width="0.2">0.60 mt. WIDE A.P. @</text>
<text transform="translate(52.3,430) rotate(-90)" x="0" y="2.74" text-anchor="middle" font-family="Liberation Sans" font-weight="bold" font-size="7.6" fill="#8c8c8c" textLength="54.5" lengthAdjust="spacing" stroke="#8c8c8c" stroke-width="0.2">Beam Bottdat</text>
<text transform="translate(1055.5,379) rotate(-90)" x="0" y="2.74" text-anchor="middle" font-family="Liberation Sans" font-weight="bold" font-size="7.6" fill="#8c8c8c" textLength="80.4" lengthAdjust="spacing" stroke="#8c8c8c" stroke-width="0.2">0.60 mt. WIDE A.P. @</text>
<text transform="translate(1063.7,377) rotate(-90)" x="0" y="2.74" text-anchor="middle" font-family="Liberation Sans" font-weight="bold" font-size="7.6" fill="#8c8c8c" textLength="54.5" lengthAdjust="spacing" stroke="#8c8c8c" stroke-width="0.2">Beam Bottdat</text>
<text transform="translate(1055.5,444) rotate(-90)" x="0" y="2.74" text-anchor="middle" font-family="Liberation Sans" font-weight="bold" font-size="7.6" fill="#8c8c8c" textLength="80.4" lengthAdjust="spacing" stroke="#8c8c8c" stroke-width="0.2">0.60 mt. WIDE A.P. @</text>
<text transform="translate(1063.7,457) rotate(-90)" x="0" y="2.74" text-anchor="middle" font-family="Liberation Sans" font-weight="bold" font-size="7.6" fill="#8c8c8c" textLength="54.5" lengthAdjust="spacing" stroke="#8c8c8c" stroke-width="0.2">Beam Bottdat</text>
<text x="88" y="108.72" text-anchor="middle" font-family="Liberation Sans" font-weight="bold" font-size="10.5" fill="#1c1cc4" textLength="23.1" lengthAdjust="spacing" stroke="#1c1cc4" stroke-width="0.5">1.18</text>
<text x="178" y="108.72" text-anchor="middle" font-family="Liberation Sans" font-weight="bold" font-size="10.5" fill="#1c1cc4" textLength="23.1" lengthAdjust="spacing" stroke="#1c1cc4" stroke-width="0.5">3.28</text>
<text x="299" y="108.72" text-anchor="middle" font-family="Liberation Sans" font-weight="bold" font-size="10.5" fill="#1c1cc4" textLength="23.1" lengthAdjust="spacing" stroke="#1c1cc4" stroke-width="0.5">2.67</text>
<text x="412" y="108.72" text-anchor="middle" font-family="Liberation Sans" font-weight="bold" font-size="10.5" fill="#1c1cc4" textLength="23.1" lengthAdjust="spacing" stroke="#1c1cc4" stroke-width="0.5">2.93</text>
<text x="557" y="108.72" text-anchor="middle" font-family="Liberation Sans" font-weight="bold" font-size="10.5" fill="#1c1cc4" textLength="23.1" lengthAdjust="spacing" stroke="#1c1cc4" stroke-width="0.5">4.23</text>
<text x="702" y="108.72" text-anchor="middle" font-family="Liberation Sans" font-weight="bold" font-size="10.5" fill="#1c1cc4" textLength="23.1" lengthAdjust="spacing" stroke="#1c1cc4" stroke-width="0.5">2.93</text>
<text x="814" y="108.72" text-anchor="middle" font-family="Liberation Sans" font-weight="bold" font-size="10.5" fill="#1c1cc4" textLength="23.1" lengthAdjust="spacing" stroke="#1c1cc4" stroke-width="0.5">2.67</text>
<text x="934" y="108.72" text-anchor="middle" font-family="Liberation Sans" font-weight="bold" font-size="10.5" fill="#1c1cc4" textLength="23.1" lengthAdjust="spacing" stroke="#1c1cc4" stroke-width="0.5">3.28</text>
<text x="1024.7" y="108.72" text-anchor="middle" font-family="Liberation Sans" font-weight="bold" font-size="10.5" fill="#1c1cc4" textLength="23.1" lengthAdjust="spacing" stroke="#1c1cc4" stroke-width="0.5">1.18</text>
<text x="557.5" y="97.72" text-anchor="middle" font-family="Liberation Sans" font-weight="bold" font-size="10.5" fill="#1c1cc4" textLength="30.2" lengthAdjust="spacing" stroke="#1c1cc4" stroke-width="0.5">24.34</text>
<text x="88" y="737.73" text-anchor="middle" font-family="Liberation Sans" font-weight="bold" font-size="10.5" fill="#1c1cc4" textLength="23.1" lengthAdjust="spacing" stroke="#1c1cc4" stroke-width="0.5">1.18</text>
<text x="178" y="737.73" text-anchor="middle" font-family="Liberation Sans" font-weight="bold" font-size="10.5" fill="#1c1cc4" textLength="23.1" lengthAdjust="spacing" stroke="#1c1cc4" stroke-width="0.5">3.28</text>
<text x="299" y="737.73" text-anchor="middle" font-family="Liberation Sans" font-weight="bold" font-size="10.5" fill="#1c1cc4" textLength="23.1" lengthAdjust="spacing" stroke="#1c1cc4" stroke-width="0.5">2.67</text>
<text x="413.4" y="737.73" text-anchor="middle" font-family="Liberation Sans" font-weight="bold" font-size="10.5" fill="#1c1cc4" textLength="23.1" lengthAdjust="spacing" stroke="#1c1cc4" stroke-width="0.5">3.05</text>
<text x="556.8" y="737.73" text-anchor="middle" font-family="Liberation Sans" font-weight="bold" font-size="10.5" fill="#1c1cc4" textLength="23.1" lengthAdjust="spacing" stroke="#1c1cc4" stroke-width="0.5">4.00</text>
<text x="699.4" y="737.73" text-anchor="middle" font-family="Liberation Sans" font-weight="bold" font-size="10.5" fill="#1c1cc4" textLength="23.1" lengthAdjust="spacing" stroke="#1c1cc4" stroke-width="0.5">3.05</text>
<text x="814.7" y="737.73" text-anchor="middle" font-family="Liberation Sans" font-weight="bold" font-size="10.5" fill="#1c1cc4" textLength="23.1" lengthAdjust="spacing" stroke="#1c1cc4" stroke-width="0.5">2.67</text>
<text x="934" y="737.73" text-anchor="middle" font-family="Liberation Sans" font-weight="bold" font-size="10.5" fill="#1c1cc4" textLength="23.1" lengthAdjust="spacing" stroke="#1c1cc4" stroke-width="0.5">3.28</text>
<text x="1024.7" y="737.73" text-anchor="middle" font-family="Liberation Sans" font-weight="bold" font-size="10.5" fill="#1c1cc4" textLength="23.1" lengthAdjust="spacing" stroke="#1c1cc4" stroke-width="0.5">1.18</text>
<text x="557" y="747.73" text-anchor="middle" font-family="Liberation Sans" font-weight="bold" font-size="10.5" fill="#1c1cc4" textLength="30.2" lengthAdjust="spacing" stroke="#1c1cc4" stroke-width="0.5">24.34</text>
<text transform="translate(26.3,174) rotate(-90)" x="0" y="3.78" text-anchor="middle" font-family="Liberation Sans" font-weight="bold" font-size="10.5" fill="#1c1cc4" textLength="23" lengthAdjust="spacing" stroke="#1c1cc4" stroke-width="0.5">1.22</text>
<text transform="translate(26.3,417) rotate(-90)" x="0" y="3.78" text-anchor="middle" font-family="Liberation Sans" font-weight="bold" font-size="10.5" fill="#1c1cc4" textLength="30.9" lengthAdjust="spacing" stroke="#1c1cc4" stroke-width="0.5">10.93</text>
<text transform="translate(26.3,665) rotate(-90)" x="0" y="3.78" text-anchor="middle" font-family="Liberation Sans" font-weight="bold" font-size="10.5" fill="#1c1cc4" textLength="23" lengthAdjust="spacing" stroke="#1c1cc4" stroke-width="0.5">1.22</text>
<text transform="translate(1080,181.8) rotate(90)" x="0" y="3.78" text-anchor="middle" font-family="Liberation Sans" font-weight="bold" font-size="10.5" fill="#1c1cc4" textLength="23" lengthAdjust="spacing" stroke="#1c1cc4" stroke-width="0.5">1.22</text>
<text transform="translate(1081,430) rotate(90)" x="0" y="3.78" text-anchor="middle" font-family="Liberation Sans" font-weight="bold" font-size="10.5" fill="#1c1cc4" textLength="30.9" lengthAdjust="spacing" stroke="#1c1cc4" stroke-width="0.5">10.94</text>
<text transform="translate(1094,430) rotate(90)" x="0" y="3.78" text-anchor="middle" font-family="Liberation Sans" font-weight="bold" font-size="10.5" fill="#1c1cc4" textLength="30.9" lengthAdjust="spacing" stroke="#1c1cc4" stroke-width="0.5">13.37</text>
<text transform="translate(1080,672.7) rotate(90)" x="0" y="3.78" text-anchor="middle" font-family="Liberation Sans" font-weight="bold" font-size="10.5" fill="#1c1cc4" textLength="23" lengthAdjust="spacing" stroke="#1c1cc4" stroke-width="0.5">1.22</text>
<text transform="translate(359.4,171.7) rotate(-90)" x="0" y="3.78" text-anchor="middle" font-family="Liberation Sans" font-weight="bold" font-size="10.5" fill="#1c1cc4" textLength="22.6" lengthAdjust="spacing" stroke="#1c1cc4" stroke-width="0.5">0.49</text>
<text transform="translate(460,146.5) rotate(-90)" x="0" y="3.78" text-anchor="middle" font-family="Liberation Sans" font-weight="bold" font-size="10.5" fill="#1c1cc4" textLength="21.4" lengthAdjust="spacing" stroke="#1c1cc4" stroke-width="0.5">1.69</text>
<text transform="translate(451,194) rotate(-90)" x="0" y="3.78" text-anchor="middle" font-family="Liberation Sans" font-weight="bold" font-size="10.5" fill="#1c1cc4" textLength="23" lengthAdjust="spacing" stroke="#1c1cc4" stroke-width="0.5">0.84</text>
<text x="456" y="220.42" text-anchor="middle" font-family="Liberation Sans" font-weight="bold" font-size="10.5" fill="#1c1cc4" textLength="23.4" lengthAdjust="spacing" stroke="#1c1cc4" stroke-width="0.5">0.60</text>
<text transform="translate(656.5,194) rotate(-90)" x="0" y="3.78" text-anchor="middle" font-family="Liberation Sans" font-weight="bold" font-size="10.5" fill="#1c1cc4" textLength="23" lengthAdjust="spacing" stroke="#1c1cc4" stroke-width="0.5">0.84</text>
<text x="658.5" y="220.42" text-anchor="middle" font-family="Liberation Sans" font-weight="bold" font-size="10.5" fill="#1c1cc4" textLength="23.4" lengthAdjust="spacing" stroke="#1c1cc4" stroke-width="0.5">0.60</text>
<text x="456" y="636.52" text-anchor="middle" font-family="Liberation Sans" font-weight="bold" font-size="10.5" fill="#1c1cc4" textLength="23.4" lengthAdjust="spacing" stroke="#1c1cc4" stroke-width="0.5">0.60</text>
<text transform="translate(451,646.4) rotate(-90)" x="0" y="3.78" text-anchor="middle" font-family="Liberation Sans" font-weight="bold" font-size="10.5" fill="#1c1cc4" textLength="23" lengthAdjust="spacing" stroke="#1c1cc4" stroke-width="0.5">0.84</text>
<text x="656" y="636.52" text-anchor="middle" font-family="Liberation Sans" font-weight="bold" font-size="10.5" fill="#1c1cc4" textLength="23.4" lengthAdjust="spacing" stroke="#1c1cc4" stroke-width="0.5">0.60</text>
<text transform="translate(656,645) rotate(90)" x="0" y="3.78" text-anchor="middle" font-family="Liberation Sans" font-weight="bold" font-size="10.5" fill="#1c1cc4" textLength="23" lengthAdjust="spacing" stroke="#1c1cc4" stroke-width="0.5">0.84</text>
<text transform="translate(553.5,197.4) rotate(-90)" x="0" y="3.78" text-anchor="middle" font-family="Liberation Sans" font-weight="bold" font-size="10.5" fill="#1c1cc4" textLength="22.9" lengthAdjust="spacing" stroke="#1c1cc4" stroke-width="0.5">2.00</text>
<text x="515.4" y="252.53" text-anchor="middle" font-family="Liberation Sans" font-weight="bold" font-size="10.5" fill="#1c1cc4" textLength="23.1" lengthAdjust="spacing" stroke="#1c1cc4" stroke-width="0.5">2.00</text>
<text x="597" y="350.73" text-anchor="middle" font-family="Liberation Sans" font-weight="bold" font-size="10.5" fill="#1c1cc4" textLength="23.1" lengthAdjust="spacing" stroke="#1c1cc4" stroke-width="0.5">2.00</text>
<text transform="translate(613,256) rotate(-90)" x="0" y="3.78" text-anchor="middle" font-family="Liberation Sans" font-weight="bold" font-size="10.5" fill="#1c1cc4" textLength="22" lengthAdjust="spacing" stroke="#1c1cc4" stroke-width="0.5">0.30</text>
<text transform="translate(496.5,330) rotate(-90)" x="0" y="3.78" text-anchor="middle" font-family="Liberation Sans" font-weight="bold" font-size="10.5" fill="#1c1cc4" textLength="22" lengthAdjust="spacing" stroke="#1c1cc4" stroke-width="0.5">0.30</text>
<text x="296.6" y="397.43" text-anchor="middle" font-family="Liberation Sans" font-weight="bold" font-size="10.5" fill="#1c1cc4" textLength="23.6" lengthAdjust="spacing" stroke="#1c1cc4" stroke-width="0.5">2.55</text>
<text transform="translate(330.5,418.8) rotate(-90)" x="0" y="3.78" text-anchor="middle" font-family="Liberation Sans" font-weight="bold" font-size="10.5" fill="#1c1cc4" textLength="23" lengthAdjust="spacing" stroke="#1c1cc4" stroke-width="0.5">2.25</text>
<text x="817" y="392.73" text-anchor="middle" font-family="Liberation Sans" font-weight="bold" font-size="10.5" fill="#1c1cc4" textLength="23.6" lengthAdjust="spacing" stroke="#1c1cc4" stroke-width="0.5">2.55</text>
<text transform="translate(773.8,418.8) rotate(-90)" x="0" y="3.78" text-anchor="middle" font-family="Liberation Sans" font-weight="bold" font-size="10.5" fill="#1c1cc4" textLength="23" lengthAdjust="spacing" stroke="#1c1cc4" stroke-width="0.5">2.25</text>
<text transform="translate(487.5,611) rotate(-90)" x="0" y="3.78" text-anchor="middle" font-family="Liberation Sans" font-weight="bold" font-size="10.5" fill="#1c1cc4" textLength="23" lengthAdjust="spacing" stroke="#1c1cc4" stroke-width="0.5">2.29</text>
<text transform="translate(487.6,186) rotate(-90)" x="0" y="3.78" text-anchor="middle" font-family="Liberation Sans" font-weight="bold" font-size="10.5" fill="#a8a8a8" textLength="22.9" lengthAdjust="spacing" stroke="#a8a8a8" stroke-width="0.5">1.45</text>
<text x="556.8" y="182.72" text-anchor="middle" font-family="Liberation Sans" font-weight="bold" font-size="10.5" fill="#a8a8a8" textLength="23.6" lengthAdjust="spacing" stroke="#a8a8a8" stroke-width="0.5">4.23</text>
<text transform="translate(614.6,390.7) rotate(-90)" x="0" y="3.78" text-anchor="middle" font-family="Liberation Sans" font-weight="bold" font-size="10.5" fill="#a8a8a8" textLength="24.6" lengthAdjust="spacing" stroke="#a8a8a8" stroke-width="0.5">8.65</text>
<text x="556.8" y="585.52" text-anchor="middle" font-family="Liberation Sans" font-weight="bold" font-size="10.5" fill="#a8a8a8" textLength="23.6" lengthAdjust="spacing" stroke="#a8a8a8" stroke-width="0.5">4.00</text>
</svg></body></html>
